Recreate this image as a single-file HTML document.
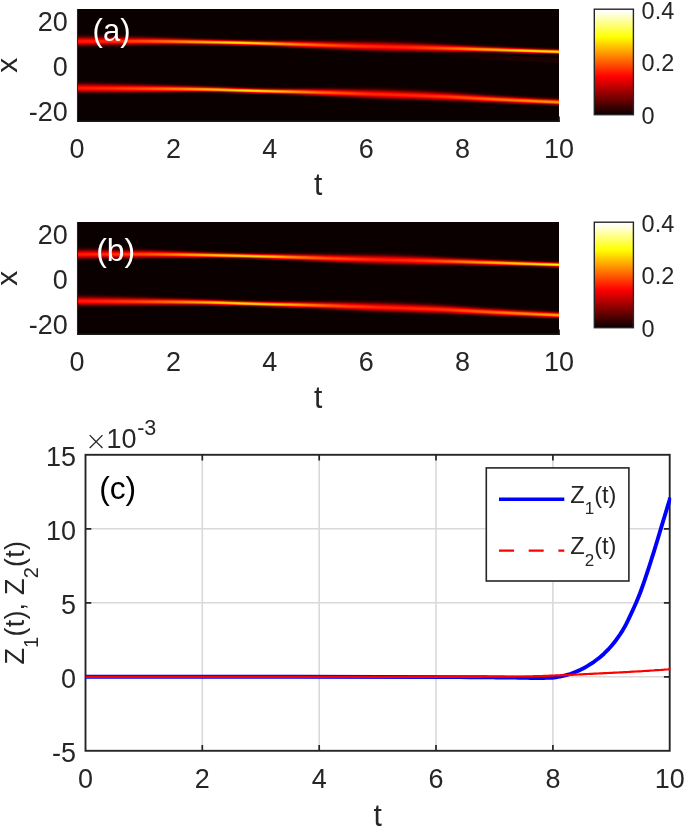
<!DOCTYPE html>
<html lang="en"><head><meta charset="utf-8"><title>Figure</title>
<style>
html,body{margin:0;padding:0;background:#fff;}
body{width:685px;height:828px;overflow:hidden;}
svg{display:block;}
text{font-family:'Liberation Sans', sans-serif;fill:#262626;}
</style></head><body>
<svg width="685" height="828" viewBox="0 0 685 828">
<defs>
<filter id="hot" filterUnits="userSpaceOnUse" x="0" y="0" width="685" height="828" color-interpolation-filters="sRGB">
<feComponentTransfer>
<feFuncR type="table" tableValues="0.0417 0.0833 0.125 0.1667 0.2083 0.25 0.2917 0.3333 0.375 0.4167 0.4583 0.5 0.5417 0.5833 0.625 0.6667 0.7083 0.75 0.7917 0.8333 0.875 0.9167 0.9583 1 1 1 1 1 1 1 1 1 1 1 1 1 1 1 1 1 1 1 1 1 1 1 1 1 1 1 1 1 1 1 1 1 1 1 1 1 1 1 1 1 1"/>
<feFuncG type="table" tableValues="0 0 0 0 0 0 0 0 0 0 0 0 0 0 0 0 0 0 0 0 0 0 0 0 0.0417 0.0833 0.125 0.1667 0.2083 0.25 0.2917 0.3333 0.375 0.4167 0.4583 0.5 0.5417 0.5833 0.625 0.6667 0.7083 0.75 0.7917 0.8333 0.875 0.9167 0.9583 1 1 1 1 1 1 1 1 1 1 1 1 1 1 1 1 1 1"/>
<feFuncB type="table" tableValues="0 0 0 0 0 0 0 0 0 0 0 0 0 0 0 0 0 0 0 0 0 0 0 0 0 0 0 0 0 0 0 0 0 0 0 0 0 0 0 0 0 0 0 0 0 0 0 0 0.0625 0.125 0.1875 0.25 0.3125 0.375 0.4375 0.5 0.5625 0.625 0.6875 0.75 0.8125 0.875 0.9375 1 1"/>
</feComponentTransfer></filter>
<linearGradient id="sech" x1="0" y1="0" x2="0" y2="1"><stop offset="0" stop-color="#fff" stop-opacity="0.0024"/><stop offset="0.025" stop-color="#fff" stop-opacity="0.0044"/><stop offset="0.05" stop-color="#fff" stop-opacity="0.0076"/><stop offset="0.075" stop-color="#fff" stop-opacity="0.0129"/><stop offset="0.1" stop-color="#fff" stop-opacity="0.0213"/><stop offset="0.125" stop-color="#fff" stop-opacity="0.0339"/><stop offset="0.15" stop-color="#fff" stop-opacity="0.0524"/><stop offset="0.175" stop-color="#fff" stop-opacity="0.0787"/><stop offset="0.2" stop-color="#fff" stop-opacity="0.1146"/><stop offset="0.225" stop-color="#fff" stop-opacity="0.1620"/><stop offset="0.25" stop-color="#fff" stop-opacity="0.2222"/><stop offset="0.275" stop-color="#fff" stop-opacity="0.2957"/><stop offset="0.3" stop-color="#fff" stop-opacity="0.3819"/><stop offset="0.325" stop-color="#fff" stop-opacity="0.4785"/><stop offset="0.35" stop-color="#fff" stop-opacity="0.5819"/><stop offset="0.375" stop-color="#fff" stop-opacity="0.6866"/><stop offset="0.4" stop-color="#fff" stop-opacity="0.7861"/><stop offset="0.425" stop-color="#fff" stop-opacity="0.8734"/><stop offset="0.45" stop-color="#fff" stop-opacity="0.9416"/><stop offset="0.475" stop-color="#fff" stop-opacity="0.9851"/><stop offset="0.5" stop-color="#fff" stop-opacity="1.0000"/><stop offset="0.525" stop-color="#fff" stop-opacity="0.9897"/><stop offset="0.55" stop-color="#fff" stop-opacity="0.9518"/><stop offset="0.575" stop-color="#fff" stop-opacity="0.8843"/><stop offset="0.6" stop-color="#fff" stop-opacity="0.7907"/><stop offset="0.625" stop-color="#fff" stop-opacity="0.6784"/><stop offset="0.65" stop-color="#fff" stop-opacity="0.5572"/><stop offset="0.675" stop-color="#fff" stop-opacity="0.4372"/><stop offset="0.7" stop-color="#fff" stop-opacity="0.3272"/><stop offset="0.725" stop-color="#fff" stop-opacity="0.2331"/><stop offset="0.75" stop-color="#fff" stop-opacity="0.1579"/><stop offset="0.775" stop-color="#fff" stop-opacity="0.1015"/><stop offset="0.8" stop-color="#fff" stop-opacity="0.0619"/><stop offset="0.825" stop-color="#fff" stop-opacity="0.0358"/><stop offset="0.85" stop-color="#fff" stop-opacity="0.0195"/><stop offset="0.875" stop-color="#fff" stop-opacity="0.0101"/><stop offset="0.9" stop-color="#fff" stop-opacity="0.0049"/><stop offset="0.925" stop-color="#fff" stop-opacity="0.0023"/><stop offset="0.95" stop-color="#fff" stop-opacity="0.0010"/><stop offset="0.975" stop-color="#fff" stop-opacity="0.0004"/><stop offset="1" stop-color="#fff" stop-opacity="0.0002"/></linearGradient>
<linearGradient id="cbg" x1="0" y1="1" x2="0" y2="0"><stop offset="0" stop-color="#000"/><stop offset="1" stop-color="#fff"/></linearGradient>
<linearGradient id="faint" gradientUnits="userSpaceOnUse" x1="430" y1="0" x2="559" y2="0"><stop offset="0" stop-color="#fff" stop-opacity="0"/><stop offset="0.5" stop-color="#fff" stop-opacity="0.022"/><stop offset="1" stop-color="#fff" stop-opacity="0.03"/></linearGradient>
<clipPath id="cpc"><rect x="85" y="454" width="586.2" height="297.3"/></clipPath>
</defs>
<rect width="685" height="828" fill="#fff"/>
<g filter="url(#hot)">
<rect x="77" y="9" width="482" height="112" fill="#000"/>
<rect x="77" y="31.14" width="2" height="20.50" fill="url(#sech)" opacity="0.401"/>
<rect x="79" y="31.16" width="2" height="20.42" fill="url(#sech)" opacity="0.402"/>
<rect x="81" y="31.19" width="2" height="20.33" fill="url(#sech)" opacity="0.403"/>
<rect x="83" y="31.22" width="2" height="20.24" fill="url(#sech)" opacity="0.405"/>
<rect x="85" y="31.25" width="2" height="20.14" fill="url(#sech)" opacity="0.406"/>
<rect x="87" y="31.29" width="2" height="20.04" fill="url(#sech)" opacity="0.408"/>
<rect x="89" y="31.33" width="2" height="19.94" fill="url(#sech)" opacity="0.410"/>
<rect x="91" y="31.37" width="2" height="19.83" fill="url(#sech)" opacity="0.411"/>
<rect x="93" y="31.42" width="2" height="19.72" fill="url(#sech)" opacity="0.413"/>
<rect x="95" y="31.46" width="2" height="19.61" fill="url(#sech)" opacity="0.415"/>
<rect x="97" y="31.51" width="2" height="19.49" fill="url(#sech)" opacity="0.417"/>
<rect x="99" y="31.56" width="2" height="19.37" fill="url(#sech)" opacity="0.419"/>
<rect x="101" y="31.62" width="2" height="19.25" fill="url(#sech)" opacity="0.421"/>
<rect x="103" y="31.67" width="2" height="19.13" fill="url(#sech)" opacity="0.423"/>
<rect x="105" y="31.73" width="2" height="19.01" fill="url(#sech)" opacity="0.426"/>
<rect x="107" y="31.78" width="2" height="18.89" fill="url(#sech)" opacity="0.428"/>
<rect x="109" y="31.84" width="2" height="18.76" fill="url(#sech)" opacity="0.430"/>
<rect x="111" y="31.90" width="2" height="18.64" fill="url(#sech)" opacity="0.432"/>
<rect x="113" y="31.96" width="2" height="18.51" fill="url(#sech)" opacity="0.435"/>
<rect x="115" y="32.02" width="2" height="18.37" fill="url(#sech)" opacity="0.437"/>
<rect x="117" y="32.09" width="2" height="18.24" fill="url(#sech)" opacity="0.440"/>
<rect x="119" y="32.16" width="2" height="18.10" fill="url(#sech)" opacity="0.443"/>
<rect x="121" y="32.23" width="2" height="17.95" fill="url(#sech)" opacity="0.445"/>
<rect x="123" y="32.30" width="2" height="17.81" fill="url(#sech)" opacity="0.448"/>
<rect x="125" y="32.37" width="2" height="17.66" fill="url(#sech)" opacity="0.451"/>
<rect x="127" y="32.45" width="2" height="17.51" fill="url(#sech)" opacity="0.455"/>
<rect x="129" y="32.52" width="2" height="17.35" fill="url(#sech)" opacity="0.458"/>
<rect x="131" y="32.60" width="2" height="17.20" fill="url(#sech)" opacity="0.461"/>
<rect x="133" y="32.68" width="2" height="17.04" fill="url(#sech)" opacity="0.464"/>
<rect x="135" y="32.76" width="2" height="16.89" fill="url(#sech)" opacity="0.468"/>
<rect x="137" y="32.84" width="2" height="16.73" fill="url(#sech)" opacity="0.471"/>
<rect x="139" y="32.92" width="2" height="16.57" fill="url(#sech)" opacity="0.475"/>
<rect x="141" y="33.00" width="2" height="16.41" fill="url(#sech)" opacity="0.479"/>
<rect x="143" y="33.09" width="2" height="16.24" fill="url(#sech)" opacity="0.483"/>
<rect x="145" y="33.18" width="2" height="16.07" fill="url(#sech)" opacity="0.487"/>
<rect x="147" y="33.28" width="2" height="15.89" fill="url(#sech)" opacity="0.491"/>
<rect x="149" y="33.38" width="2" height="15.71" fill="url(#sech)" opacity="0.496"/>
<rect x="151" y="33.48" width="2" height="15.53" fill="url(#sech)" opacity="0.500"/>
<rect x="153" y="33.59" width="2" height="15.35" fill="url(#sech)" opacity="0.505"/>
<rect x="155" y="33.70" width="2" height="15.17" fill="url(#sech)" opacity="0.510"/>
<rect x="157" y="33.81" width="2" height="14.99" fill="url(#sech)" opacity="0.515"/>
<rect x="159" y="33.93" width="2" height="14.81" fill="url(#sech)" opacity="0.520"/>
<rect x="161" y="34.04" width="2" height="14.64" fill="url(#sech)" opacity="0.525"/>
<rect x="163" y="34.16" width="2" height="14.46" fill="url(#sech)" opacity="0.530"/>
<rect x="165" y="34.27" width="2" height="14.29" fill="url(#sech)" opacity="0.535"/>
<rect x="167" y="34.39" width="2" height="14.12" fill="url(#sech)" opacity="0.540"/>
<rect x="169" y="34.50" width="2" height="13.95" fill="url(#sech)" opacity="0.545"/>
<rect x="171" y="34.62" width="2" height="13.79" fill="url(#sech)" opacity="0.550"/>
<rect x="173" y="34.73" width="2" height="13.62" fill="url(#sech)" opacity="0.556"/>
<rect x="175" y="34.85" width="2" height="13.44" fill="url(#sech)" opacity="0.561"/>
<rect x="177" y="34.98" width="2" height="13.27" fill="url(#sech)" opacity="0.567"/>
<rect x="179" y="35.10" width="2" height="13.10" fill="url(#sech)" opacity="0.573"/>
<rect x="181" y="35.22" width="2" height="12.93" fill="url(#sech)" opacity="0.579"/>
<rect x="183" y="35.34" width="2" height="12.76" fill="url(#sech)" opacity="0.585"/>
<rect x="185" y="35.46" width="2" height="12.60" fill="url(#sech)" opacity="0.591"/>
<rect x="187" y="35.57" width="2" height="12.44" fill="url(#sech)" opacity="0.597"/>
<rect x="189" y="35.68" width="2" height="12.29" fill="url(#sech)" opacity="0.603"/>
<rect x="191" y="35.79" width="2" height="12.14" fill="url(#sech)" opacity="0.609"/>
<rect x="193" y="35.90" width="2" height="12.01" fill="url(#sech)" opacity="0.615"/>
<rect x="195" y="36.00" width="2" height="11.88" fill="url(#sech)" opacity="0.620"/>
<rect x="197" y="36.09" width="2" height="11.75" fill="url(#sech)" opacity="0.625"/>
<rect x="199" y="36.18" width="2" height="11.64" fill="url(#sech)" opacity="0.630"/>
<rect x="201" y="36.27" width="2" height="11.53" fill="url(#sech)" opacity="0.635"/>
<rect x="203" y="36.35" width="2" height="11.43" fill="url(#sech)" opacity="0.639"/>
<rect x="205" y="36.44" width="2" height="11.33" fill="url(#sech)" opacity="0.644"/>
<rect x="207" y="36.53" width="2" height="11.22" fill="url(#sech)" opacity="0.649"/>
<rect x="209" y="36.62" width="2" height="11.13" fill="url(#sech)" opacity="0.653"/>
<rect x="211" y="36.70" width="2" height="11.04" fill="url(#sech)" opacity="0.657"/>
<rect x="213" y="36.78" width="2" height="10.95" fill="url(#sech)" opacity="0.662"/>
<rect x="215" y="36.87" width="2" height="10.87" fill="url(#sech)" opacity="0.666"/>
<rect x="217" y="36.95" width="2" height="10.79" fill="url(#sech)" opacity="0.669"/>
<rect x="219" y="37.02" width="2" height="10.72" fill="url(#sech)" opacity="0.673"/>
<rect x="221" y="37.10" width="2" height="10.66" fill="url(#sech)" opacity="0.676"/>
<rect x="223" y="37.17" width="2" height="10.61" fill="url(#sech)" opacity="0.679"/>
<rect x="225" y="37.23" width="2" height="10.56" fill="url(#sech)" opacity="0.681"/>
<rect x="227" y="37.30" width="2" height="10.51" fill="url(#sech)" opacity="0.684"/>
<rect x="229" y="37.37" width="2" height="10.46" fill="url(#sech)" opacity="0.686"/>
<rect x="231" y="37.43" width="2" height="10.42" fill="url(#sech)" opacity="0.688"/>
<rect x="233" y="37.50" width="2" height="10.38" fill="url(#sech)" opacity="0.691"/>
<rect x="235" y="37.56" width="2" height="10.34" fill="url(#sech)" opacity="0.693"/>
<rect x="237" y="37.63" width="2" height="10.31" fill="url(#sech)" opacity="0.694"/>
<rect x="239" y="37.69" width="2" height="10.28" fill="url(#sech)" opacity="0.696"/>
<rect x="241" y="37.74" width="2" height="10.26" fill="url(#sech)" opacity="0.697"/>
<rect x="243" y="37.79" width="2" height="10.25" fill="url(#sech)" opacity="0.697"/>
<rect x="245" y="37.84" width="2" height="10.25" fill="url(#sech)" opacity="0.697"/>
<rect x="247" y="37.88" width="2" height="10.27" fill="url(#sech)" opacity="0.696"/>
<rect x="249" y="37.91" width="2" height="10.31" fill="url(#sech)" opacity="0.694"/>
<rect x="251" y="37.93" width="2" height="10.36" fill="url(#sech)" opacity="0.692"/>
<rect x="253" y="37.95" width="2" height="10.42" fill="url(#sech)" opacity="0.689"/>
<rect x="255" y="37.97" width="2" height="10.49" fill="url(#sech)" opacity="0.685"/>
<rect x="257" y="37.97" width="2" height="10.57" fill="url(#sech)" opacity="0.681"/>
<rect x="259" y="37.98" width="2" height="10.66" fill="url(#sech)" opacity="0.676"/>
<rect x="261" y="37.99" width="2" height="10.75" fill="url(#sech)" opacity="0.672"/>
<rect x="263" y="37.99" width="2" height="10.84" fill="url(#sech)" opacity="0.667"/>
<rect x="265" y="38.00" width="2" height="10.93" fill="url(#sech)" opacity="0.663"/>
<rect x="267" y="38.00" width="2" height="11.04" fill="url(#sech)" opacity="0.658"/>
<rect x="269" y="37.99" width="2" height="11.16" fill="url(#sech)" opacity="0.652"/>
<rect x="271" y="37.97" width="2" height="11.30" fill="url(#sech)" opacity="0.645"/>
<rect x="273" y="37.94" width="2" height="11.46" fill="url(#sech)" opacity="0.638"/>
<rect x="275" y="37.91" width="2" height="11.62" fill="url(#sech)" opacity="0.631"/>
<rect x="277" y="37.88" width="2" height="11.80" fill="url(#sech)" opacity="0.623"/>
<rect x="279" y="37.84" width="2" height="11.98" fill="url(#sech)" opacity="0.616"/>
<rect x="281" y="37.80" width="2" height="12.17" fill="url(#sech)" opacity="0.608"/>
<rect x="283" y="37.76" width="2" height="12.36" fill="url(#sech)" opacity="0.600"/>
<rect x="285" y="37.71" width="2" height="12.55" fill="url(#sech)" opacity="0.593"/>
<rect x="287" y="37.68" width="2" height="12.74" fill="url(#sech)" opacity="0.586"/>
<rect x="289" y="37.65" width="2" height="12.91" fill="url(#sech)" opacity="0.580"/>
<rect x="291" y="37.62" width="2" height="13.08" fill="url(#sech)" opacity="0.574"/>
<rect x="293" y="37.59" width="2" height="13.25" fill="url(#sech)" opacity="0.568"/>
<rect x="295" y="37.56" width="2" height="13.42" fill="url(#sech)" opacity="0.562"/>
<rect x="297" y="37.53" width="2" height="13.60" fill="url(#sech)" opacity="0.556"/>
<rect x="299" y="37.49" width="2" height="13.78" fill="url(#sech)" opacity="0.550"/>
<rect x="301" y="37.46" width="2" height="13.96" fill="url(#sech)" opacity="0.545"/>
<rect x="303" y="37.43" width="2" height="14.14" fill="url(#sech)" opacity="0.539"/>
<rect x="305" y="37.40" width="2" height="14.32" fill="url(#sech)" opacity="0.534"/>
<rect x="307" y="37.37" width="2" height="14.50" fill="url(#sech)" opacity="0.528"/>
<rect x="309" y="37.35" width="2" height="14.68" fill="url(#sech)" opacity="0.523"/>
<rect x="311" y="37.32" width="2" height="14.86" fill="url(#sech)" opacity="0.518"/>
<rect x="313" y="37.29" width="2" height="15.04" fill="url(#sech)" opacity="0.513"/>
<rect x="315" y="37.27" width="2" height="15.21" fill="url(#sech)" opacity="0.509"/>
<rect x="317" y="37.25" width="2" height="15.38" fill="url(#sech)" opacity="0.504"/>
<rect x="319" y="37.23" width="2" height="15.54" fill="url(#sech)" opacity="0.500"/>
<rect x="321" y="37.21" width="2" height="15.70" fill="url(#sech)" opacity="0.496"/>
<rect x="323" y="37.20" width="2" height="15.86" fill="url(#sech)" opacity="0.492"/>
<rect x="325" y="37.18" width="2" height="16.01" fill="url(#sech)" opacity="0.488"/>
<rect x="327" y="37.17" width="2" height="16.17" fill="url(#sech)" opacity="0.484"/>
<rect x="329" y="37.15" width="2" height="16.32" fill="url(#sech)" opacity="0.481"/>
<rect x="331" y="37.14" width="2" height="16.47" fill="url(#sech)" opacity="0.477"/>
<rect x="333" y="37.13" width="2" height="16.62" fill="url(#sech)" opacity="0.474"/>
<rect x="335" y="37.11" width="2" height="16.76" fill="url(#sech)" opacity="0.471"/>
<rect x="337" y="37.10" width="2" height="16.91" fill="url(#sech)" opacity="0.467"/>
<rect x="339" y="37.09" width="2" height="17.05" fill="url(#sech)" opacity="0.464"/>
<rect x="341" y="37.08" width="2" height="17.19" fill="url(#sech)" opacity="0.461"/>
<rect x="343" y="37.07" width="2" height="17.33" fill="url(#sech)" opacity="0.458"/>
<rect x="345" y="37.06" width="2" height="17.46" fill="url(#sech)" opacity="0.455"/>
<rect x="347" y="37.05" width="2" height="17.60" fill="url(#sech)" opacity="0.453"/>
<rect x="349" y="37.04" width="2" height="17.73" fill="url(#sech)" opacity="0.450"/>
<rect x="351" y="37.02" width="2" height="17.86" fill="url(#sech)" opacity="0.447"/>
<rect x="353" y="37.01" width="2" height="18.00" fill="url(#sech)" opacity="0.445"/>
<rect x="355" y="36.99" width="2" height="18.15" fill="url(#sech)" opacity="0.442"/>
<rect x="357" y="36.96" width="2" height="18.30" fill="url(#sech)" opacity="0.439"/>
<rect x="359" y="36.94" width="2" height="18.45" fill="url(#sech)" opacity="0.436"/>
<rect x="361" y="36.91" width="2" height="18.60" fill="url(#sech)" opacity="0.433"/>
<rect x="363" y="36.89" width="2" height="18.75" fill="url(#sech)" opacity="0.430"/>
<rect x="365" y="36.87" width="2" height="18.90" fill="url(#sech)" opacity="0.427"/>
<rect x="367" y="36.84" width="2" height="19.05" fill="url(#sech)" opacity="0.425"/>
<rect x="369" y="36.82" width="2" height="19.19" fill="url(#sech)" opacity="0.422"/>
<rect x="371" y="36.81" width="2" height="19.31" fill="url(#sech)" opacity="0.420"/>
<rect x="373" y="36.80" width="2" height="19.43" fill="url(#sech)" opacity="0.418"/>
<rect x="375" y="36.80" width="2" height="19.53" fill="url(#sech)" opacity="0.416"/>
<rect x="377" y="36.80" width="2" height="19.62" fill="url(#sech)" opacity="0.415"/>
<rect x="379" y="36.82" width="2" height="19.69" fill="url(#sech)" opacity="0.414"/>
<rect x="381" y="36.84" width="2" height="19.74" fill="url(#sech)" opacity="0.413"/>
<rect x="383" y="36.88" width="2" height="19.76" fill="url(#sech)" opacity="0.413"/>
<rect x="385" y="36.92" width="2" height="19.76" fill="url(#sech)" opacity="0.413"/>
<rect x="387" y="36.98" width="2" height="19.74" fill="url(#sech)" opacity="0.413"/>
<rect x="389" y="37.05" width="2" height="19.70" fill="url(#sech)" opacity="0.414"/>
<rect x="391" y="37.13" width="2" height="19.65" fill="url(#sech)" opacity="0.414"/>
<rect x="393" y="37.21" width="2" height="19.58" fill="url(#sech)" opacity="0.416"/>
<rect x="395" y="37.30" width="2" height="19.50" fill="url(#sech)" opacity="0.417"/>
<rect x="397" y="37.39" width="2" height="19.41" fill="url(#sech)" opacity="0.418"/>
<rect x="399" y="37.49" width="2" height="19.31" fill="url(#sech)" opacity="0.420"/>
<rect x="401" y="37.59" width="2" height="19.21" fill="url(#sech)" opacity="0.422"/>
<rect x="403" y="37.70" width="2" height="19.10" fill="url(#sech)" opacity="0.424"/>
<rect x="405" y="37.80" width="2" height="18.99" fill="url(#sech)" opacity="0.426"/>
<rect x="407" y="37.91" width="2" height="18.88" fill="url(#sech)" opacity="0.428"/>
<rect x="409" y="38.02" width="2" height="18.76" fill="url(#sech)" opacity="0.430"/>
<rect x="411" y="38.13" width="2" height="18.64" fill="url(#sech)" opacity="0.432"/>
<rect x="413" y="38.25" width="2" height="18.51" fill="url(#sech)" opacity="0.435"/>
<rect x="415" y="38.38" width="2" height="18.36" fill="url(#sech)" opacity="0.438"/>
<rect x="417" y="38.51" width="2" height="18.19" fill="url(#sech)" opacity="0.441"/>
<rect x="419" y="38.65" width="2" height="18.01" fill="url(#sech)" opacity="0.444"/>
<rect x="421" y="38.79" width="2" height="17.83" fill="url(#sech)" opacity="0.448"/>
<rect x="423" y="38.94" width="2" height="17.64" fill="url(#sech)" opacity="0.452"/>
<rect x="425" y="39.09" width="2" height="17.44" fill="url(#sech)" opacity="0.456"/>
<rect x="427" y="39.24" width="2" height="17.24" fill="url(#sech)" opacity="0.460"/>
<rect x="429" y="39.40" width="2" height="17.04" fill="url(#sech)" opacity="0.465"/>
<rect x="431" y="39.55" width="2" height="16.83" fill="url(#sech)" opacity="0.469"/>
<rect x="433" y="39.70" width="2" height="16.63" fill="url(#sech)" opacity="0.474"/>
<rect x="435" y="39.86" width="2" height="16.43" fill="url(#sech)" opacity="0.478"/>
<rect x="437" y="40.01" width="2" height="16.23" fill="url(#sech)" opacity="0.483"/>
<rect x="439" y="40.16" width="2" height="16.04" fill="url(#sech)" opacity="0.487"/>
<rect x="441" y="40.31" width="2" height="15.84" fill="url(#sech)" opacity="0.492"/>
<rect x="443" y="40.46" width="2" height="15.64" fill="url(#sech)" opacity="0.497"/>
<rect x="445" y="40.62" width="2" height="15.43" fill="url(#sech)" opacity="0.503"/>
<rect x="447" y="40.78" width="2" height="15.21" fill="url(#sech)" opacity="0.509"/>
<rect x="449" y="40.94" width="2" height="15.00" fill="url(#sech)" opacity="0.514"/>
<rect x="451" y="41.11" width="2" height="14.78" fill="url(#sech)" opacity="0.521"/>
<rect x="453" y="41.27" width="2" height="14.56" fill="url(#sech)" opacity="0.527"/>
<rect x="455" y="41.43" width="2" height="14.35" fill="url(#sech)" opacity="0.533"/>
<rect x="457" y="41.59" width="2" height="14.14" fill="url(#sech)" opacity="0.539"/>
<rect x="459" y="41.75" width="2" height="13.94" fill="url(#sech)" opacity="0.545"/>
<rect x="461" y="41.90" width="2" height="13.74" fill="url(#sech)" opacity="0.552"/>
<rect x="463" y="42.05" width="2" height="13.55" fill="url(#sech)" opacity="0.558"/>
<rect x="465" y="42.20" width="2" height="13.38" fill="url(#sech)" opacity="0.564"/>
<rect x="467" y="42.34" width="2" height="13.21" fill="url(#sech)" opacity="0.569"/>
<rect x="469" y="42.48" width="2" height="13.05" fill="url(#sech)" opacity="0.575"/>
<rect x="471" y="42.61" width="2" height="12.90" fill="url(#sech)" opacity="0.580"/>
<rect x="473" y="42.74" width="2" height="12.75" fill="url(#sech)" opacity="0.586"/>
<rect x="475" y="42.88" width="2" height="12.60" fill="url(#sech)" opacity="0.591"/>
<rect x="477" y="43.01" width="2" height="12.46" fill="url(#sech)" opacity="0.597"/>
<rect x="479" y="43.14" width="2" height="12.32" fill="url(#sech)" opacity="0.602"/>
<rect x="481" y="43.27" width="2" height="12.19" fill="url(#sech)" opacity="0.607"/>
<rect x="483" y="43.39" width="2" height="12.06" fill="url(#sech)" opacity="0.613"/>
<rect x="485" y="43.52" width="2" height="11.93" fill="url(#sech)" opacity="0.618"/>
<rect x="487" y="43.64" width="2" height="11.81" fill="url(#sech)" opacity="0.623"/>
<rect x="489" y="43.76" width="2" height="11.70" fill="url(#sech)" opacity="0.628"/>
<rect x="491" y="43.88" width="2" height="11.58" fill="url(#sech)" opacity="0.632"/>
<rect x="493" y="44.00" width="2" height="11.48" fill="url(#sech)" opacity="0.637"/>
<rect x="495" y="44.11" width="2" height="11.38" fill="url(#sech)" opacity="0.642"/>
<rect x="497" y="44.23" width="2" height="11.28" fill="url(#sech)" opacity="0.646"/>
<rect x="499" y="44.33" width="2" height="11.20" fill="url(#sech)" opacity="0.650"/>
<rect x="501" y="44.44" width="2" height="11.11" fill="url(#sech)" opacity="0.654"/>
<rect x="503" y="44.55" width="2" height="11.03" fill="url(#sech)" opacity="0.658"/>
<rect x="505" y="44.65" width="2" height="10.95" fill="url(#sech)" opacity="0.662"/>
<rect x="507" y="44.76" width="2" height="10.87" fill="url(#sech)" opacity="0.666"/>
<rect x="509" y="44.86" width="2" height="10.79" fill="url(#sech)" opacity="0.669"/>
<rect x="511" y="44.96" width="2" height="10.72" fill="url(#sech)" opacity="0.673"/>
<rect x="513" y="45.06" width="2" height="10.65" fill="url(#sech)" opacity="0.677"/>
<rect x="515" y="45.16" width="2" height="10.58" fill="url(#sech)" opacity="0.680"/>
<rect x="517" y="45.26" width="2" height="10.52" fill="url(#sech)" opacity="0.683"/>
<rect x="519" y="45.35" width="2" height="10.46" fill="url(#sech)" opacity="0.686"/>
<rect x="521" y="45.45" width="2" height="10.40" fill="url(#sech)" opacity="0.689"/>
<rect x="523" y="45.54" width="2" height="10.35" fill="url(#sech)" opacity="0.692"/>
<rect x="525" y="45.63" width="2" height="10.30" fill="url(#sech)" opacity="0.695"/>
<rect x="527" y="45.71" width="2" height="10.25" fill="url(#sech)" opacity="0.698"/>
<rect x="529" y="45.80" width="2" height="10.20" fill="url(#sech)" opacity="0.700"/>
<rect x="531" y="45.88" width="2" height="10.16" fill="url(#sech)" opacity="0.702"/>
<rect x="533" y="45.96" width="2" height="10.12" fill="url(#sech)" opacity="0.704"/>
<rect x="535" y="46.04" width="2" height="10.09" fill="url(#sech)" opacity="0.707"/>
<rect x="537" y="46.13" width="2" height="10.05" fill="url(#sech)" opacity="0.709"/>
<rect x="539" y="46.21" width="2" height="10.01" fill="url(#sech)" opacity="0.711"/>
<rect x="541" y="46.28" width="2" height="9.98" fill="url(#sech)" opacity="0.713"/>
<rect x="543" y="46.36" width="2" height="9.95" fill="url(#sech)" opacity="0.714"/>
<rect x="545" y="46.44" width="2" height="9.92" fill="url(#sech)" opacity="0.716"/>
<rect x="547" y="46.52" width="2" height="9.89" fill="url(#sech)" opacity="0.718"/>
<rect x="549" y="46.59" width="2" height="9.86" fill="url(#sech)" opacity="0.719"/>
<rect x="551" y="46.67" width="2" height="9.84" fill="url(#sech)" opacity="0.721"/>
<rect x="553" y="46.74" width="2" height="9.81" fill="url(#sech)" opacity="0.722"/>
<rect x="555" y="46.81" width="2" height="9.79" fill="url(#sech)" opacity="0.723"/>
<rect x="557" y="46.88" width="2" height="9.77" fill="url(#sech)" opacity="0.725"/>
<rect x="77" y="77.86" width="2" height="20.50" fill="url(#sech)" opacity="0.401"/>
<rect x="79" y="77.91" width="2" height="20.42" fill="url(#sech)" opacity="0.402"/>
<rect x="81" y="77.97" width="2" height="20.33" fill="url(#sech)" opacity="0.403"/>
<rect x="83" y="78.03" width="2" height="20.24" fill="url(#sech)" opacity="0.405"/>
<rect x="85" y="78.10" width="2" height="20.14" fill="url(#sech)" opacity="0.406"/>
<rect x="87" y="78.16" width="2" height="20.04" fill="url(#sech)" opacity="0.408"/>
<rect x="89" y="78.23" width="2" height="19.94" fill="url(#sech)" opacity="0.410"/>
<rect x="91" y="78.30" width="2" height="19.83" fill="url(#sech)" opacity="0.411"/>
<rect x="93" y="78.37" width="2" height="19.72" fill="url(#sech)" opacity="0.413"/>
<rect x="95" y="78.44" width="2" height="19.61" fill="url(#sech)" opacity="0.415"/>
<rect x="97" y="78.52" width="2" height="19.49" fill="url(#sech)" opacity="0.417"/>
<rect x="99" y="78.59" width="2" height="19.37" fill="url(#sech)" opacity="0.419"/>
<rect x="101" y="78.67" width="2" height="19.25" fill="url(#sech)" opacity="0.421"/>
<rect x="103" y="78.75" width="2" height="19.13" fill="url(#sech)" opacity="0.423"/>
<rect x="105" y="78.82" width="2" height="19.01" fill="url(#sech)" opacity="0.426"/>
<rect x="107" y="78.90" width="2" height="18.89" fill="url(#sech)" opacity="0.428"/>
<rect x="109" y="78.98" width="2" height="18.76" fill="url(#sech)" opacity="0.430"/>
<rect x="111" y="79.06" width="2" height="18.64" fill="url(#sech)" opacity="0.432"/>
<rect x="113" y="79.14" width="2" height="18.51" fill="url(#sech)" opacity="0.435"/>
<rect x="115" y="79.23" width="2" height="18.37" fill="url(#sech)" opacity="0.437"/>
<rect x="117" y="79.32" width="2" height="18.23" fill="url(#sech)" opacity="0.440"/>
<rect x="119" y="79.40" width="2" height="18.09" fill="url(#sech)" opacity="0.443"/>
<rect x="121" y="79.49" width="2" height="17.94" fill="url(#sech)" opacity="0.446"/>
<rect x="123" y="79.59" width="2" height="17.80" fill="url(#sech)" opacity="0.449"/>
<rect x="125" y="79.68" width="2" height="17.65" fill="url(#sech)" opacity="0.452"/>
<rect x="127" y="79.77" width="2" height="17.50" fill="url(#sech)" opacity="0.455"/>
<rect x="129" y="79.87" width="2" height="17.34" fill="url(#sech)" opacity="0.458"/>
<rect x="131" y="79.96" width="2" height="17.19" fill="url(#sech)" opacity="0.461"/>
<rect x="133" y="80.06" width="2" height="17.03" fill="url(#sech)" opacity="0.465"/>
<rect x="135" y="80.15" width="2" height="16.88" fill="url(#sech)" opacity="0.468"/>
<rect x="137" y="80.25" width="2" height="16.72" fill="url(#sech)" opacity="0.471"/>
<rect x="139" y="80.34" width="2" height="16.57" fill="url(#sech)" opacity="0.475"/>
<rect x="141" y="80.44" width="2" height="16.41" fill="url(#sech)" opacity="0.479"/>
<rect x="143" y="80.53" width="2" height="16.25" fill="url(#sech)" opacity="0.482"/>
<rect x="145" y="80.63" width="2" height="16.09" fill="url(#sech)" opacity="0.486"/>
<rect x="147" y="80.73" width="2" height="15.93" fill="url(#sech)" opacity="0.490"/>
<rect x="149" y="80.83" width="2" height="15.76" fill="url(#sech)" opacity="0.494"/>
<rect x="151" y="80.93" width="2" height="15.59" fill="url(#sech)" opacity="0.499"/>
<rect x="153" y="81.03" width="2" height="15.43" fill="url(#sech)" opacity="0.503"/>
<rect x="155" y="81.13" width="2" height="15.26" fill="url(#sech)" opacity="0.507"/>
<rect x="157" y="81.23" width="2" height="15.09" fill="url(#sech)" opacity="0.512"/>
<rect x="159" y="81.33" width="2" height="14.92" fill="url(#sech)" opacity="0.516"/>
<rect x="161" y="81.43" width="2" height="14.76" fill="url(#sech)" opacity="0.521"/>
<rect x="163" y="81.53" width="2" height="14.59" fill="url(#sech)" opacity="0.526"/>
<rect x="165" y="81.63" width="2" height="14.43" fill="url(#sech)" opacity="0.530"/>
<rect x="167" y="81.73" width="2" height="14.27" fill="url(#sech)" opacity="0.535"/>
<rect x="169" y="81.83" width="2" height="14.12" fill="url(#sech)" opacity="0.540"/>
<rect x="171" y="81.93" width="2" height="13.96" fill="url(#sech)" opacity="0.545"/>
<rect x="173" y="82.03" width="2" height="13.80" fill="url(#sech)" opacity="0.550"/>
<rect x="175" y="82.13" width="2" height="13.63" fill="url(#sech)" opacity="0.555"/>
<rect x="177" y="82.23" width="2" height="13.47" fill="url(#sech)" opacity="0.561"/>
<rect x="179" y="82.33" width="2" height="13.31" fill="url(#sech)" opacity="0.566"/>
<rect x="181" y="82.43" width="2" height="13.15" fill="url(#sech)" opacity="0.572"/>
<rect x="183" y="82.54" width="2" height="12.99" fill="url(#sech)" opacity="0.577"/>
<rect x="185" y="82.64" width="2" height="12.83" fill="url(#sech)" opacity="0.583"/>
<rect x="187" y="82.74" width="2" height="12.68" fill="url(#sech)" opacity="0.588"/>
<rect x="189" y="82.84" width="2" height="12.53" fill="url(#sech)" opacity="0.594"/>
<rect x="191" y="82.93" width="2" height="12.39" fill="url(#sech)" opacity="0.599"/>
<rect x="193" y="83.03" width="2" height="12.25" fill="url(#sech)" opacity="0.605"/>
<rect x="195" y="83.13" width="2" height="12.12" fill="url(#sech)" opacity="0.610"/>
<rect x="197" y="83.22" width="2" height="12.00" fill="url(#sech)" opacity="0.615"/>
<rect x="199" y="83.31" width="2" height="11.88" fill="url(#sech)" opacity="0.620"/>
<rect x="201" y="83.41" width="2" height="11.76" fill="url(#sech)" opacity="0.625"/>
<rect x="203" y="83.50" width="2" height="11.65" fill="url(#sech)" opacity="0.630"/>
<rect x="205" y="83.60" width="2" height="11.53" fill="url(#sech)" opacity="0.635"/>
<rect x="207" y="83.71" width="2" height="11.42" fill="url(#sech)" opacity="0.640"/>
<rect x="209" y="83.81" width="2" height="11.31" fill="url(#sech)" opacity="0.645"/>
<rect x="211" y="83.92" width="2" height="11.21" fill="url(#sech)" opacity="0.650"/>
<rect x="213" y="84.02" width="2" height="11.11" fill="url(#sech)" opacity="0.654"/>
<rect x="215" y="84.12" width="2" height="11.01" fill="url(#sech)" opacity="0.659"/>
<rect x="217" y="84.23" width="2" height="10.92" fill="url(#sech)" opacity="0.663"/>
<rect x="219" y="84.33" width="2" height="10.84" fill="url(#sech)" opacity="0.667"/>
<rect x="221" y="84.42" width="2" height="10.77" fill="url(#sech)" opacity="0.670"/>
<rect x="223" y="84.52" width="2" height="10.71" fill="url(#sech)" opacity="0.674"/>
<rect x="225" y="84.61" width="2" height="10.65" fill="url(#sech)" opacity="0.676"/>
<rect x="227" y="84.70" width="2" height="10.60" fill="url(#sech)" opacity="0.679"/>
<rect x="229" y="84.80" width="2" height="10.54" fill="url(#sech)" opacity="0.682"/>
<rect x="231" y="84.89" width="2" height="10.49" fill="url(#sech)" opacity="0.685"/>
<rect x="233" y="84.98" width="2" height="10.44" fill="url(#sech)" opacity="0.687"/>
<rect x="235" y="85.07" width="2" height="10.39" fill="url(#sech)" opacity="0.690"/>
<rect x="237" y="85.16" width="2" height="10.35" fill="url(#sech)" opacity="0.692"/>
<rect x="239" y="85.24" width="2" height="10.31" fill="url(#sech)" opacity="0.695"/>
<rect x="241" y="85.32" width="2" height="10.27" fill="url(#sech)" opacity="0.696"/>
<rect x="243" y="85.40" width="2" height="10.24" fill="url(#sech)" opacity="0.698"/>
<rect x="245" y="85.47" width="2" height="10.22" fill="url(#sech)" opacity="0.699"/>
<rect x="247" y="85.54" width="2" height="10.21" fill="url(#sech)" opacity="0.700"/>
<rect x="249" y="85.60" width="2" height="10.20" fill="url(#sech)" opacity="0.700"/>
<rect x="251" y="85.66" width="2" height="10.21" fill="url(#sech)" opacity="0.700"/>
<rect x="253" y="85.71" width="2" height="10.23" fill="url(#sech)" opacity="0.699"/>
<rect x="255" y="85.74" width="2" height="10.26" fill="url(#sech)" opacity="0.697"/>
<rect x="257" y="85.78" width="2" height="10.30" fill="url(#sech)" opacity="0.695"/>
<rect x="259" y="85.80" width="2" height="10.35" fill="url(#sech)" opacity="0.692"/>
<rect x="261" y="85.82" width="2" height="10.40" fill="url(#sech)" opacity="0.689"/>
<rect x="263" y="85.84" width="2" height="10.47" fill="url(#sech)" opacity="0.686"/>
<rect x="265" y="85.85" width="2" height="10.53" fill="url(#sech)" opacity="0.682"/>
<rect x="267" y="85.86" width="2" height="10.61" fill="url(#sech)" opacity="0.679"/>
<rect x="269" y="85.87" width="2" height="10.68" fill="url(#sech)" opacity="0.675"/>
<rect x="271" y="85.88" width="2" height="10.76" fill="url(#sech)" opacity="0.671"/>
<rect x="273" y="85.88" width="2" height="10.84" fill="url(#sech)" opacity="0.667"/>
<rect x="275" y="85.89" width="2" height="10.92" fill="url(#sech)" opacity="0.663"/>
<rect x="277" y="85.88" width="2" height="11.02" fill="url(#sech)" opacity="0.658"/>
<rect x="279" y="85.87" width="2" height="11.13" fill="url(#sech)" opacity="0.653"/>
<rect x="281" y="85.86" width="2" height="11.25" fill="url(#sech)" opacity="0.647"/>
<rect x="283" y="85.83" width="2" height="11.39" fill="url(#sech)" opacity="0.641"/>
<rect x="285" y="85.80" width="2" height="11.53" fill="url(#sech)" opacity="0.635"/>
<rect x="287" y="85.77" width="2" height="11.69" fill="url(#sech)" opacity="0.628"/>
<rect x="289" y="85.73" width="2" height="11.85" fill="url(#sech)" opacity="0.621"/>
<rect x="291" y="85.69" width="2" height="12.02" fill="url(#sech)" opacity="0.614"/>
<rect x="293" y="85.65" width="2" height="12.19" fill="url(#sech)" opacity="0.607"/>
<rect x="295" y="85.61" width="2" height="12.36" fill="url(#sech)" opacity="0.600"/>
<rect x="297" y="85.57" width="2" height="12.54" fill="url(#sech)" opacity="0.594"/>
<rect x="299" y="85.53" width="2" height="12.70" fill="url(#sech)" opacity="0.587"/>
<rect x="301" y="85.49" width="2" height="12.87" fill="url(#sech)" opacity="0.581"/>
<rect x="303" y="85.45" width="2" height="13.05" fill="url(#sech)" opacity="0.575"/>
<rect x="305" y="85.41" width="2" height="13.23" fill="url(#sech)" opacity="0.569"/>
<rect x="307" y="85.36" width="2" height="13.42" fill="url(#sech)" opacity="0.562"/>
<rect x="309" y="85.32" width="2" height="13.61" fill="url(#sech)" opacity="0.556"/>
<rect x="311" y="85.27" width="2" height="13.80" fill="url(#sech)" opacity="0.550"/>
<rect x="313" y="85.22" width="2" height="14.00" fill="url(#sech)" opacity="0.544"/>
<rect x="315" y="85.17" width="2" height="14.20" fill="url(#sech)" opacity="0.537"/>
<rect x="317" y="85.13" width="2" height="14.40" fill="url(#sech)" opacity="0.532"/>
<rect x="319" y="85.08" width="2" height="14.59" fill="url(#sech)" opacity="0.526"/>
<rect x="321" y="85.04" width="2" height="14.79" fill="url(#sech)" opacity="0.520"/>
<rect x="323" y="85.01" width="2" height="14.98" fill="url(#sech)" opacity="0.515"/>
<rect x="325" y="84.97" width="2" height="15.16" fill="url(#sech)" opacity="0.510"/>
<rect x="327" y="84.94" width="2" height="15.34" fill="url(#sech)" opacity="0.505"/>
<rect x="329" y="84.91" width="2" height="15.52" fill="url(#sech)" opacity="0.500"/>
<rect x="331" y="84.88" width="2" height="15.71" fill="url(#sech)" opacity="0.496"/>
<rect x="333" y="84.85" width="2" height="15.89" fill="url(#sech)" opacity="0.491"/>
<rect x="335" y="84.82" width="2" height="16.07" fill="url(#sech)" opacity="0.487"/>
<rect x="337" y="84.79" width="2" height="16.25" fill="url(#sech)" opacity="0.483"/>
<rect x="339" y="84.77" width="2" height="16.42" fill="url(#sech)" opacity="0.478"/>
<rect x="341" y="84.74" width="2" height="16.60" fill="url(#sech)" opacity="0.474"/>
<rect x="343" y="84.72" width="2" height="16.77" fill="url(#sech)" opacity="0.471"/>
<rect x="345" y="84.70" width="2" height="16.93" fill="url(#sech)" opacity="0.467"/>
<rect x="347" y="84.69" width="2" height="17.09" fill="url(#sech)" opacity="0.463"/>
<rect x="349" y="84.68" width="2" height="17.25" fill="url(#sech)" opacity="0.460"/>
<rect x="351" y="84.66" width="2" height="17.40" fill="url(#sech)" opacity="0.457"/>
<rect x="353" y="84.65" width="2" height="17.57" fill="url(#sech)" opacity="0.453"/>
<rect x="355" y="84.63" width="2" height="17.74" fill="url(#sech)" opacity="0.450"/>
<rect x="357" y="84.61" width="2" height="17.91" fill="url(#sech)" opacity="0.446"/>
<rect x="359" y="84.59" width="2" height="18.09" fill="url(#sech)" opacity="0.443"/>
<rect x="361" y="84.57" width="2" height="18.27" fill="url(#sech)" opacity="0.439"/>
<rect x="363" y="84.54" width="2" height="18.44" fill="url(#sech)" opacity="0.436"/>
<rect x="365" y="84.52" width="2" height="18.61" fill="url(#sech)" opacity="0.433"/>
<rect x="367" y="84.51" width="2" height="18.78" fill="url(#sech)" opacity="0.430"/>
<rect x="369" y="84.50" width="2" height="18.94" fill="url(#sech)" opacity="0.427"/>
<rect x="371" y="84.49" width="2" height="19.09" fill="url(#sech)" opacity="0.424"/>
<rect x="373" y="84.49" width="2" height="19.23" fill="url(#sech)" opacity="0.422"/>
<rect x="375" y="84.49" width="2" height="19.35" fill="url(#sech)" opacity="0.420"/>
<rect x="377" y="84.51" width="2" height="19.45" fill="url(#sech)" opacity="0.418"/>
<rect x="379" y="84.54" width="2" height="19.53" fill="url(#sech)" opacity="0.417"/>
<rect x="381" y="84.57" width="2" height="19.58" fill="url(#sech)" opacity="0.416"/>
<rect x="383" y="84.62" width="2" height="19.61" fill="url(#sech)" opacity="0.415"/>
<rect x="385" y="84.69" width="2" height="19.62" fill="url(#sech)" opacity="0.415"/>
<rect x="387" y="84.76" width="2" height="19.61" fill="url(#sech)" opacity="0.415"/>
<rect x="389" y="84.83" width="2" height="19.60" fill="url(#sech)" opacity="0.415"/>
<rect x="391" y="84.90" width="2" height="19.58" fill="url(#sech)" opacity="0.416"/>
<rect x="393" y="84.97" width="2" height="19.56" fill="url(#sech)" opacity="0.416"/>
<rect x="395" y="85.05" width="2" height="19.54" fill="url(#sech)" opacity="0.416"/>
<rect x="397" y="85.13" width="2" height="19.51" fill="url(#sech)" opacity="0.417"/>
<rect x="399" y="85.21" width="2" height="19.48" fill="url(#sech)" opacity="0.417"/>
<rect x="401" y="85.30" width="2" height="19.44" fill="url(#sech)" opacity="0.418"/>
<rect x="403" y="85.39" width="2" height="19.40" fill="url(#sech)" opacity="0.419"/>
<rect x="405" y="85.48" width="2" height="19.35" fill="url(#sech)" opacity="0.419"/>
<rect x="407" y="85.57" width="2" height="19.31" fill="url(#sech)" opacity="0.420"/>
<rect x="409" y="85.66" width="2" height="19.25" fill="url(#sech)" opacity="0.421"/>
<rect x="411" y="85.76" width="2" height="19.20" fill="url(#sech)" opacity="0.422"/>
<rect x="413" y="85.85" width="2" height="19.14" fill="url(#sech)" opacity="0.423"/>
<rect x="415" y="85.95" width="2" height="19.09" fill="url(#sech)" opacity="0.424"/>
<rect x="417" y="86.06" width="2" height="19.02" fill="url(#sech)" opacity="0.425"/>
<rect x="419" y="86.16" width="2" height="18.96" fill="url(#sech)" opacity="0.426"/>
<rect x="421" y="86.27" width="2" height="18.89" fill="url(#sech)" opacity="0.428"/>
<rect x="423" y="86.37" width="2" height="18.83" fill="url(#sech)" opacity="0.429"/>
<rect x="425" y="86.48" width="2" height="18.76" fill="url(#sech)" opacity="0.430"/>
<rect x="427" y="86.59" width="2" height="18.69" fill="url(#sech)" opacity="0.431"/>
<rect x="429" y="86.71" width="2" height="18.62" fill="url(#sech)" opacity="0.433"/>
<rect x="431" y="86.82" width="2" height="18.55" fill="url(#sech)" opacity="0.434"/>
<rect x="433" y="86.94" width="2" height="18.47" fill="url(#sech)" opacity="0.435"/>
<rect x="435" y="87.06" width="2" height="18.40" fill="url(#sech)" opacity="0.437"/>
<rect x="437" y="87.18" width="2" height="18.32" fill="url(#sech)" opacity="0.438"/>
<rect x="439" y="87.31" width="2" height="18.23" fill="url(#sech)" opacity="0.440"/>
<rect x="441" y="87.46" width="2" height="18.12" fill="url(#sech)" opacity="0.442"/>
<rect x="443" y="87.61" width="2" height="18.00" fill="url(#sech)" opacity="0.445"/>
<rect x="445" y="87.77" width="2" height="17.87" fill="url(#sech)" opacity="0.447"/>
<rect x="447" y="87.94" width="2" height="17.72" fill="url(#sech)" opacity="0.450"/>
<rect x="449" y="88.11" width="2" height="17.57" fill="url(#sech)" opacity="0.453"/>
<rect x="451" y="88.29" width="2" height="17.41" fill="url(#sech)" opacity="0.456"/>
<rect x="453" y="88.48" width="2" height="17.25" fill="url(#sech)" opacity="0.460"/>
<rect x="455" y="88.66" width="2" height="17.09" fill="url(#sech)" opacity="0.463"/>
<rect x="457" y="88.85" width="2" height="16.93" fill="url(#sech)" opacity="0.467"/>
<rect x="459" y="89.04" width="2" height="16.77" fill="url(#sech)" opacity="0.470"/>
<rect x="461" y="89.22" width="2" height="16.61" fill="url(#sech)" opacity="0.474"/>
<rect x="463" y="89.41" width="2" height="16.46" fill="url(#sech)" opacity="0.478"/>
<rect x="465" y="89.59" width="2" height="16.31" fill="url(#sech)" opacity="0.481"/>
<rect x="467" y="89.77" width="2" height="16.17" fill="url(#sech)" opacity="0.484"/>
<rect x="469" y="89.95" width="2" height="16.04" fill="url(#sech)" opacity="0.487"/>
<rect x="471" y="90.12" width="2" height="15.91" fill="url(#sech)" opacity="0.491"/>
<rect x="473" y="90.29" width="2" height="15.79" fill="url(#sech)" opacity="0.494"/>
<rect x="475" y="90.47" width="2" height="15.66" fill="url(#sech)" opacity="0.497"/>
<rect x="477" y="90.64" width="2" height="15.53" fill="url(#sech)" opacity="0.500"/>
<rect x="479" y="90.81" width="2" height="15.41" fill="url(#sech)" opacity="0.503"/>
<rect x="481" y="90.98" width="2" height="15.29" fill="url(#sech)" opacity="0.507"/>
<rect x="483" y="91.15" width="2" height="15.17" fill="url(#sech)" opacity="0.510"/>
<rect x="485" y="91.32" width="2" height="15.05" fill="url(#sech)" opacity="0.513"/>
<rect x="487" y="91.48" width="2" height="14.93" fill="url(#sech)" opacity="0.516"/>
<rect x="489" y="91.64" width="2" height="14.82" fill="url(#sech)" opacity="0.519"/>
<rect x="491" y="91.80" width="2" height="14.71" fill="url(#sech)" opacity="0.522"/>
<rect x="493" y="91.95" width="2" height="14.60" fill="url(#sech)" opacity="0.526"/>
<rect x="495" y="92.10" width="2" height="14.50" fill="url(#sech)" opacity="0.529"/>
<rect x="497" y="92.25" width="2" height="14.40" fill="url(#sech)" opacity="0.531"/>
<rect x="499" y="92.39" width="2" height="14.30" fill="url(#sech)" opacity="0.534"/>
<rect x="501" y="92.54" width="2" height="14.20" fill="url(#sech)" opacity="0.537"/>
<rect x="503" y="92.68" width="2" height="14.11" fill="url(#sech)" opacity="0.540"/>
<rect x="505" y="92.82" width="2" height="14.01" fill="url(#sech)" opacity="0.543"/>
<rect x="507" y="92.96" width="2" height="13.92" fill="url(#sech)" opacity="0.546"/>
<rect x="509" y="93.10" width="2" height="13.83" fill="url(#sech)" opacity="0.549"/>
<rect x="511" y="93.24" width="2" height="13.74" fill="url(#sech)" opacity="0.552"/>
<rect x="513" y="93.38" width="2" height="13.66" fill="url(#sech)" opacity="0.554"/>
<rect x="515" y="93.51" width="2" height="13.57" fill="url(#sech)" opacity="0.557"/>
<rect x="517" y="93.65" width="2" height="13.49" fill="url(#sech)" opacity="0.560"/>
<rect x="519" y="93.78" width="2" height="13.41" fill="url(#sech)" opacity="0.563"/>
<rect x="521" y="93.91" width="2" height="13.34" fill="url(#sech)" opacity="0.565"/>
<rect x="523" y="94.04" width="2" height="13.26" fill="url(#sech)" opacity="0.568"/>
<rect x="525" y="94.16" width="2" height="13.19" fill="url(#sech)" opacity="0.570"/>
<rect x="527" y="94.29" width="2" height="13.12" fill="url(#sech)" opacity="0.573"/>
<rect x="529" y="94.41" width="2" height="13.05" fill="url(#sech)" opacity="0.575"/>
<rect x="531" y="94.54" width="2" height="12.98" fill="url(#sech)" opacity="0.577"/>
<rect x="533" y="94.66" width="2" height="12.92" fill="url(#sech)" opacity="0.580"/>
<rect x="535" y="94.78" width="2" height="12.86" fill="url(#sech)" opacity="0.582"/>
<rect x="537" y="94.90" width="2" height="12.80" fill="url(#sech)" opacity="0.584"/>
<rect x="539" y="95.02" width="2" height="12.74" fill="url(#sech)" opacity="0.586"/>
<rect x="541" y="95.13" width="2" height="12.68" fill="url(#sech)" opacity="0.588"/>
<rect x="543" y="95.25" width="2" height="12.62" fill="url(#sech)" opacity="0.591"/>
<rect x="545" y="95.36" width="2" height="12.57" fill="url(#sech)" opacity="0.593"/>
<rect x="547" y="95.48" width="2" height="12.51" fill="url(#sech)" opacity="0.595"/>
<rect x="549" y="95.59" width="2" height="12.46" fill="url(#sech)" opacity="0.597"/>
<rect x="551" y="95.70" width="2" height="12.41" fill="url(#sech)" opacity="0.599"/>
<rect x="553" y="95.81" width="2" height="12.36" fill="url(#sech)" opacity="0.600"/>
<rect x="555" y="95.92" width="2" height="12.31" fill="url(#sech)" opacity="0.602"/>
<rect x="557" y="96.02" width="2" height="12.27" fill="url(#sech)" opacity="0.604"/>
<path d="M430 54 L559 60.5" stroke="url(#faint)" stroke-width="5" fill="none"/>
</g>
<path d="M77.5 9.0 V121.0" fill="none" stroke="#262626" stroke-width="1.1"/>
<path d="M77.0 121.15 H559.8" fill="none" stroke="#1a1a1a" stroke-width="1.5"/>
<path d="M559.2 116.4 v5.4" fill="none" stroke="#1a1a1a" stroke-width="1.3"/>
<text transform="translate(67.8,31.1) scale(1,1.04)" font-size="27" text-anchor="end">20</text>
<text transform="translate(67.8,75.9) scale(1,1.04)" font-size="27" text-anchor="end">0</text>
<text transform="translate(67.8,120.7) scale(1,1.04)" font-size="27" text-anchor="end">-20</text>
<text transform="translate(77.0,158.4) scale(1,1.04)" font-size="27" text-anchor="middle">0</text>
<text transform="translate(173.4,158.4) scale(1,1.04)" font-size="27" text-anchor="middle">2</text>
<text transform="translate(269.8,158.4) scale(1,1.04)" font-size="27" text-anchor="middle">4</text>
<text transform="translate(366.2,158.4) scale(1,1.04)" font-size="27" text-anchor="middle">6</text>
<text transform="translate(462.6,158.4) scale(1,1.04)" font-size="27" text-anchor="middle">8</text>
<text transform="translate(559.0,158.4) scale(1,1.04)" font-size="27" text-anchor="middle">10</text>
<text transform="translate(318.2,195.0) scale(1,1.03)" font-size="30" text-anchor="middle">t</text>
<text transform="translate(17.3,65.2) rotate(-90)" font-size="30" text-anchor="middle">x</text>
<text x="92.6" y="41.3" font-size="30.5" style="fill:#fff" textLength="37.9" lengthAdjust="spacingAndGlyphs">(a)</text>
<g filter="url(#hot)"><rect x="594.3" y="9.2" width="39.1" height="105.5" fill="url(#cbg)"/></g>
<rect x="594.3" y="9.2" width="39.1" height="105.5" fill="none" stroke="#262626" stroke-width="1.4"/>
<text transform="translate(641.6,18.9) scale(1,1.05)" font-size="23.5">0.4</text>
<text transform="translate(641.6,70.9) scale(1,1.05)" font-size="23.5">0.2</text>
<text transform="translate(641.6,124.4) scale(1,1.05)" font-size="23.5">0</text>
<g filter="url(#hot)">
<rect x="77" y="222" width="482" height="112" fill="#000"/>
<rect x="77" y="244.14" width="2" height="20.50" fill="url(#sech)" opacity="0.401"/>
<rect x="79" y="244.16" width="2" height="20.42" fill="url(#sech)" opacity="0.402"/>
<rect x="81" y="244.19" width="2" height="20.33" fill="url(#sech)" opacity="0.403"/>
<rect x="83" y="244.22" width="2" height="20.24" fill="url(#sech)" opacity="0.405"/>
<rect x="85" y="244.25" width="2" height="20.14" fill="url(#sech)" opacity="0.406"/>
<rect x="87" y="244.29" width="2" height="20.04" fill="url(#sech)" opacity="0.408"/>
<rect x="89" y="244.33" width="2" height="19.94" fill="url(#sech)" opacity="0.410"/>
<rect x="91" y="244.37" width="2" height="19.83" fill="url(#sech)" opacity="0.411"/>
<rect x="93" y="244.42" width="2" height="19.72" fill="url(#sech)" opacity="0.413"/>
<rect x="95" y="244.46" width="2" height="19.61" fill="url(#sech)" opacity="0.415"/>
<rect x="97" y="244.51" width="2" height="19.49" fill="url(#sech)" opacity="0.417"/>
<rect x="99" y="244.56" width="2" height="19.37" fill="url(#sech)" opacity="0.419"/>
<rect x="101" y="244.62" width="2" height="19.25" fill="url(#sech)" opacity="0.421"/>
<rect x="103" y="244.67" width="2" height="19.13" fill="url(#sech)" opacity="0.423"/>
<rect x="105" y="244.73" width="2" height="19.01" fill="url(#sech)" opacity="0.426"/>
<rect x="107" y="244.78" width="2" height="18.89" fill="url(#sech)" opacity="0.428"/>
<rect x="109" y="244.84" width="2" height="18.76" fill="url(#sech)" opacity="0.430"/>
<rect x="111" y="244.90" width="2" height="18.64" fill="url(#sech)" opacity="0.432"/>
<rect x="113" y="244.96" width="2" height="18.51" fill="url(#sech)" opacity="0.435"/>
<rect x="115" y="245.02" width="2" height="18.37" fill="url(#sech)" opacity="0.437"/>
<rect x="117" y="245.09" width="2" height="18.24" fill="url(#sech)" opacity="0.440"/>
<rect x="119" y="245.16" width="2" height="18.10" fill="url(#sech)" opacity="0.443"/>
<rect x="121" y="245.23" width="2" height="17.95" fill="url(#sech)" opacity="0.445"/>
<rect x="123" y="245.30" width="2" height="17.81" fill="url(#sech)" opacity="0.448"/>
<rect x="125" y="245.37" width="2" height="17.66" fill="url(#sech)" opacity="0.451"/>
<rect x="127" y="245.45" width="2" height="17.51" fill="url(#sech)" opacity="0.455"/>
<rect x="129" y="245.52" width="2" height="17.35" fill="url(#sech)" opacity="0.458"/>
<rect x="131" y="245.60" width="2" height="17.20" fill="url(#sech)" opacity="0.461"/>
<rect x="133" y="245.68" width="2" height="17.04" fill="url(#sech)" opacity="0.464"/>
<rect x="135" y="245.76" width="2" height="16.89" fill="url(#sech)" opacity="0.468"/>
<rect x="137" y="245.84" width="2" height="16.73" fill="url(#sech)" opacity="0.471"/>
<rect x="139" y="245.92" width="2" height="16.57" fill="url(#sech)" opacity="0.475"/>
<rect x="141" y="246.00" width="2" height="16.41" fill="url(#sech)" opacity="0.479"/>
<rect x="143" y="246.09" width="2" height="16.24" fill="url(#sech)" opacity="0.483"/>
<rect x="145" y="246.18" width="2" height="16.07" fill="url(#sech)" opacity="0.487"/>
<rect x="147" y="246.28" width="2" height="15.89" fill="url(#sech)" opacity="0.491"/>
<rect x="149" y="246.38" width="2" height="15.71" fill="url(#sech)" opacity="0.496"/>
<rect x="151" y="246.48" width="2" height="15.53" fill="url(#sech)" opacity="0.500"/>
<rect x="153" y="246.59" width="2" height="15.35" fill="url(#sech)" opacity="0.505"/>
<rect x="155" y="246.70" width="2" height="15.17" fill="url(#sech)" opacity="0.510"/>
<rect x="157" y="246.81" width="2" height="14.99" fill="url(#sech)" opacity="0.515"/>
<rect x="159" y="246.93" width="2" height="14.81" fill="url(#sech)" opacity="0.520"/>
<rect x="161" y="247.04" width="2" height="14.64" fill="url(#sech)" opacity="0.525"/>
<rect x="163" y="247.16" width="2" height="14.46" fill="url(#sech)" opacity="0.530"/>
<rect x="165" y="247.27" width="2" height="14.29" fill="url(#sech)" opacity="0.535"/>
<rect x="167" y="247.39" width="2" height="14.12" fill="url(#sech)" opacity="0.540"/>
<rect x="169" y="247.50" width="2" height="13.95" fill="url(#sech)" opacity="0.545"/>
<rect x="171" y="247.62" width="2" height="13.79" fill="url(#sech)" opacity="0.550"/>
<rect x="173" y="247.73" width="2" height="13.62" fill="url(#sech)" opacity="0.556"/>
<rect x="175" y="247.85" width="2" height="13.44" fill="url(#sech)" opacity="0.561"/>
<rect x="177" y="247.98" width="2" height="13.27" fill="url(#sech)" opacity="0.567"/>
<rect x="179" y="248.10" width="2" height="13.10" fill="url(#sech)" opacity="0.573"/>
<rect x="181" y="248.22" width="2" height="12.93" fill="url(#sech)" opacity="0.579"/>
<rect x="183" y="248.34" width="2" height="12.76" fill="url(#sech)" opacity="0.585"/>
<rect x="185" y="248.46" width="2" height="12.60" fill="url(#sech)" opacity="0.591"/>
<rect x="187" y="248.57" width="2" height="12.44" fill="url(#sech)" opacity="0.597"/>
<rect x="189" y="248.68" width="2" height="12.29" fill="url(#sech)" opacity="0.603"/>
<rect x="191" y="248.79" width="2" height="12.14" fill="url(#sech)" opacity="0.609"/>
<rect x="193" y="248.90" width="2" height="12.01" fill="url(#sech)" opacity="0.615"/>
<rect x="195" y="249.00" width="2" height="11.88" fill="url(#sech)" opacity="0.620"/>
<rect x="197" y="249.09" width="2" height="11.75" fill="url(#sech)" opacity="0.625"/>
<rect x="199" y="249.18" width="2" height="11.64" fill="url(#sech)" opacity="0.630"/>
<rect x="201" y="249.27" width="2" height="11.53" fill="url(#sech)" opacity="0.635"/>
<rect x="203" y="249.35" width="2" height="11.43" fill="url(#sech)" opacity="0.639"/>
<rect x="205" y="249.44" width="2" height="11.33" fill="url(#sech)" opacity="0.644"/>
<rect x="207" y="249.53" width="2" height="11.22" fill="url(#sech)" opacity="0.649"/>
<rect x="209" y="249.62" width="2" height="11.13" fill="url(#sech)" opacity="0.653"/>
<rect x="211" y="249.70" width="2" height="11.04" fill="url(#sech)" opacity="0.657"/>
<rect x="213" y="249.78" width="2" height="10.95" fill="url(#sech)" opacity="0.662"/>
<rect x="215" y="249.87" width="2" height="10.87" fill="url(#sech)" opacity="0.666"/>
<rect x="217" y="249.95" width="2" height="10.79" fill="url(#sech)" opacity="0.669"/>
<rect x="219" y="250.02" width="2" height="10.72" fill="url(#sech)" opacity="0.673"/>
<rect x="221" y="250.10" width="2" height="10.66" fill="url(#sech)" opacity="0.676"/>
<rect x="223" y="250.17" width="2" height="10.61" fill="url(#sech)" opacity="0.679"/>
<rect x="225" y="250.23" width="2" height="10.56" fill="url(#sech)" opacity="0.681"/>
<rect x="227" y="250.30" width="2" height="10.51" fill="url(#sech)" opacity="0.684"/>
<rect x="229" y="250.37" width="2" height="10.46" fill="url(#sech)" opacity="0.686"/>
<rect x="231" y="250.43" width="2" height="10.42" fill="url(#sech)" opacity="0.688"/>
<rect x="233" y="250.50" width="2" height="10.38" fill="url(#sech)" opacity="0.691"/>
<rect x="235" y="250.56" width="2" height="10.34" fill="url(#sech)" opacity="0.693"/>
<rect x="237" y="250.63" width="2" height="10.31" fill="url(#sech)" opacity="0.694"/>
<rect x="239" y="250.69" width="2" height="10.28" fill="url(#sech)" opacity="0.696"/>
<rect x="241" y="250.74" width="2" height="10.26" fill="url(#sech)" opacity="0.697"/>
<rect x="243" y="250.79" width="2" height="10.25" fill="url(#sech)" opacity="0.697"/>
<rect x="245" y="250.84" width="2" height="10.25" fill="url(#sech)" opacity="0.697"/>
<rect x="247" y="250.88" width="2" height="10.27" fill="url(#sech)" opacity="0.696"/>
<rect x="249" y="250.91" width="2" height="10.31" fill="url(#sech)" opacity="0.694"/>
<rect x="251" y="250.93" width="2" height="10.36" fill="url(#sech)" opacity="0.692"/>
<rect x="253" y="250.95" width="2" height="10.42" fill="url(#sech)" opacity="0.689"/>
<rect x="255" y="250.97" width="2" height="10.49" fill="url(#sech)" opacity="0.685"/>
<rect x="257" y="250.97" width="2" height="10.57" fill="url(#sech)" opacity="0.681"/>
<rect x="259" y="250.98" width="2" height="10.66" fill="url(#sech)" opacity="0.676"/>
<rect x="261" y="250.99" width="2" height="10.75" fill="url(#sech)" opacity="0.672"/>
<rect x="263" y="250.99" width="2" height="10.84" fill="url(#sech)" opacity="0.667"/>
<rect x="265" y="251.00" width="2" height="10.93" fill="url(#sech)" opacity="0.663"/>
<rect x="267" y="251.00" width="2" height="11.04" fill="url(#sech)" opacity="0.658"/>
<rect x="269" y="250.99" width="2" height="11.16" fill="url(#sech)" opacity="0.652"/>
<rect x="271" y="250.97" width="2" height="11.30" fill="url(#sech)" opacity="0.645"/>
<rect x="273" y="250.94" width="2" height="11.46" fill="url(#sech)" opacity="0.638"/>
<rect x="275" y="250.91" width="2" height="11.62" fill="url(#sech)" opacity="0.631"/>
<rect x="277" y="250.88" width="2" height="11.80" fill="url(#sech)" opacity="0.623"/>
<rect x="279" y="250.84" width="2" height="11.98" fill="url(#sech)" opacity="0.616"/>
<rect x="281" y="250.80" width="2" height="12.17" fill="url(#sech)" opacity="0.608"/>
<rect x="283" y="250.76" width="2" height="12.36" fill="url(#sech)" opacity="0.600"/>
<rect x="285" y="250.71" width="2" height="12.55" fill="url(#sech)" opacity="0.593"/>
<rect x="287" y="250.68" width="2" height="12.74" fill="url(#sech)" opacity="0.586"/>
<rect x="289" y="250.65" width="2" height="12.91" fill="url(#sech)" opacity="0.580"/>
<rect x="291" y="250.62" width="2" height="13.08" fill="url(#sech)" opacity="0.574"/>
<rect x="293" y="250.59" width="2" height="13.25" fill="url(#sech)" opacity="0.568"/>
<rect x="295" y="250.56" width="2" height="13.42" fill="url(#sech)" opacity="0.562"/>
<rect x="297" y="250.53" width="2" height="13.60" fill="url(#sech)" opacity="0.556"/>
<rect x="299" y="250.49" width="2" height="13.78" fill="url(#sech)" opacity="0.550"/>
<rect x="301" y="250.46" width="2" height="13.96" fill="url(#sech)" opacity="0.545"/>
<rect x="303" y="250.43" width="2" height="14.14" fill="url(#sech)" opacity="0.539"/>
<rect x="305" y="250.40" width="2" height="14.32" fill="url(#sech)" opacity="0.534"/>
<rect x="307" y="250.37" width="2" height="14.50" fill="url(#sech)" opacity="0.528"/>
<rect x="309" y="250.35" width="2" height="14.68" fill="url(#sech)" opacity="0.523"/>
<rect x="311" y="250.32" width="2" height="14.86" fill="url(#sech)" opacity="0.518"/>
<rect x="313" y="250.29" width="2" height="15.04" fill="url(#sech)" opacity="0.513"/>
<rect x="315" y="250.27" width="2" height="15.21" fill="url(#sech)" opacity="0.509"/>
<rect x="317" y="250.25" width="2" height="15.38" fill="url(#sech)" opacity="0.504"/>
<rect x="319" y="250.23" width="2" height="15.54" fill="url(#sech)" opacity="0.500"/>
<rect x="321" y="250.21" width="2" height="15.70" fill="url(#sech)" opacity="0.496"/>
<rect x="323" y="250.20" width="2" height="15.86" fill="url(#sech)" opacity="0.492"/>
<rect x="325" y="250.18" width="2" height="16.01" fill="url(#sech)" opacity="0.488"/>
<rect x="327" y="250.17" width="2" height="16.17" fill="url(#sech)" opacity="0.484"/>
<rect x="329" y="250.15" width="2" height="16.32" fill="url(#sech)" opacity="0.481"/>
<rect x="331" y="250.14" width="2" height="16.47" fill="url(#sech)" opacity="0.477"/>
<rect x="333" y="250.13" width="2" height="16.62" fill="url(#sech)" opacity="0.474"/>
<rect x="335" y="250.11" width="2" height="16.76" fill="url(#sech)" opacity="0.471"/>
<rect x="337" y="250.10" width="2" height="16.91" fill="url(#sech)" opacity="0.467"/>
<rect x="339" y="250.09" width="2" height="17.05" fill="url(#sech)" opacity="0.464"/>
<rect x="341" y="250.08" width="2" height="17.19" fill="url(#sech)" opacity="0.461"/>
<rect x="343" y="250.07" width="2" height="17.33" fill="url(#sech)" opacity="0.458"/>
<rect x="345" y="250.06" width="2" height="17.46" fill="url(#sech)" opacity="0.455"/>
<rect x="347" y="250.05" width="2" height="17.60" fill="url(#sech)" opacity="0.453"/>
<rect x="349" y="250.04" width="2" height="17.73" fill="url(#sech)" opacity="0.450"/>
<rect x="351" y="250.02" width="2" height="17.86" fill="url(#sech)" opacity="0.447"/>
<rect x="353" y="250.01" width="2" height="18.00" fill="url(#sech)" opacity="0.445"/>
<rect x="355" y="249.99" width="2" height="18.15" fill="url(#sech)" opacity="0.442"/>
<rect x="357" y="249.96" width="2" height="18.30" fill="url(#sech)" opacity="0.439"/>
<rect x="359" y="249.94" width="2" height="18.45" fill="url(#sech)" opacity="0.436"/>
<rect x="361" y="249.91" width="2" height="18.60" fill="url(#sech)" opacity="0.433"/>
<rect x="363" y="249.89" width="2" height="18.75" fill="url(#sech)" opacity="0.430"/>
<rect x="365" y="249.87" width="2" height="18.90" fill="url(#sech)" opacity="0.427"/>
<rect x="367" y="249.84" width="2" height="19.05" fill="url(#sech)" opacity="0.425"/>
<rect x="369" y="249.82" width="2" height="19.19" fill="url(#sech)" opacity="0.422"/>
<rect x="371" y="249.81" width="2" height="19.31" fill="url(#sech)" opacity="0.420"/>
<rect x="373" y="249.80" width="2" height="19.43" fill="url(#sech)" opacity="0.418"/>
<rect x="375" y="249.80" width="2" height="19.53" fill="url(#sech)" opacity="0.416"/>
<rect x="377" y="249.80" width="2" height="19.62" fill="url(#sech)" opacity="0.415"/>
<rect x="379" y="249.82" width="2" height="19.69" fill="url(#sech)" opacity="0.414"/>
<rect x="381" y="249.84" width="2" height="19.74" fill="url(#sech)" opacity="0.413"/>
<rect x="383" y="249.88" width="2" height="19.76" fill="url(#sech)" opacity="0.413"/>
<rect x="385" y="249.92" width="2" height="19.76" fill="url(#sech)" opacity="0.413"/>
<rect x="387" y="249.98" width="2" height="19.74" fill="url(#sech)" opacity="0.413"/>
<rect x="389" y="250.05" width="2" height="19.70" fill="url(#sech)" opacity="0.414"/>
<rect x="391" y="250.13" width="2" height="19.65" fill="url(#sech)" opacity="0.414"/>
<rect x="393" y="250.21" width="2" height="19.58" fill="url(#sech)" opacity="0.416"/>
<rect x="395" y="250.30" width="2" height="19.50" fill="url(#sech)" opacity="0.417"/>
<rect x="397" y="250.39" width="2" height="19.41" fill="url(#sech)" opacity="0.418"/>
<rect x="399" y="250.49" width="2" height="19.31" fill="url(#sech)" opacity="0.420"/>
<rect x="401" y="250.59" width="2" height="19.21" fill="url(#sech)" opacity="0.422"/>
<rect x="403" y="250.70" width="2" height="19.10" fill="url(#sech)" opacity="0.424"/>
<rect x="405" y="250.80" width="2" height="18.99" fill="url(#sech)" opacity="0.426"/>
<rect x="407" y="250.91" width="2" height="18.88" fill="url(#sech)" opacity="0.428"/>
<rect x="409" y="251.02" width="2" height="18.76" fill="url(#sech)" opacity="0.430"/>
<rect x="411" y="251.13" width="2" height="18.64" fill="url(#sech)" opacity="0.432"/>
<rect x="413" y="251.25" width="2" height="18.51" fill="url(#sech)" opacity="0.435"/>
<rect x="415" y="251.38" width="2" height="18.36" fill="url(#sech)" opacity="0.438"/>
<rect x="417" y="251.51" width="2" height="18.19" fill="url(#sech)" opacity="0.441"/>
<rect x="419" y="251.65" width="2" height="18.01" fill="url(#sech)" opacity="0.444"/>
<rect x="421" y="251.79" width="2" height="17.83" fill="url(#sech)" opacity="0.448"/>
<rect x="423" y="251.94" width="2" height="17.64" fill="url(#sech)" opacity="0.452"/>
<rect x="425" y="252.09" width="2" height="17.44" fill="url(#sech)" opacity="0.456"/>
<rect x="427" y="252.24" width="2" height="17.24" fill="url(#sech)" opacity="0.460"/>
<rect x="429" y="252.40" width="2" height="17.04" fill="url(#sech)" opacity="0.465"/>
<rect x="431" y="252.55" width="2" height="16.83" fill="url(#sech)" opacity="0.469"/>
<rect x="433" y="252.70" width="2" height="16.63" fill="url(#sech)" opacity="0.474"/>
<rect x="435" y="252.86" width="2" height="16.43" fill="url(#sech)" opacity="0.478"/>
<rect x="437" y="253.01" width="2" height="16.23" fill="url(#sech)" opacity="0.483"/>
<rect x="439" y="253.16" width="2" height="16.04" fill="url(#sech)" opacity="0.487"/>
<rect x="441" y="253.31" width="2" height="15.84" fill="url(#sech)" opacity="0.492"/>
<rect x="443" y="253.46" width="2" height="15.64" fill="url(#sech)" opacity="0.497"/>
<rect x="445" y="253.62" width="2" height="15.43" fill="url(#sech)" opacity="0.503"/>
<rect x="447" y="253.78" width="2" height="15.21" fill="url(#sech)" opacity="0.509"/>
<rect x="449" y="253.94" width="2" height="15.00" fill="url(#sech)" opacity="0.514"/>
<rect x="451" y="254.11" width="2" height="14.78" fill="url(#sech)" opacity="0.521"/>
<rect x="453" y="254.27" width="2" height="14.56" fill="url(#sech)" opacity="0.527"/>
<rect x="455" y="254.43" width="2" height="14.35" fill="url(#sech)" opacity="0.533"/>
<rect x="457" y="254.59" width="2" height="14.14" fill="url(#sech)" opacity="0.539"/>
<rect x="459" y="254.75" width="2" height="13.94" fill="url(#sech)" opacity="0.545"/>
<rect x="461" y="254.90" width="2" height="13.74" fill="url(#sech)" opacity="0.552"/>
<rect x="463" y="255.05" width="2" height="13.55" fill="url(#sech)" opacity="0.558"/>
<rect x="465" y="255.20" width="2" height="13.38" fill="url(#sech)" opacity="0.564"/>
<rect x="467" y="255.34" width="2" height="13.21" fill="url(#sech)" opacity="0.569"/>
<rect x="469" y="255.48" width="2" height="13.05" fill="url(#sech)" opacity="0.575"/>
<rect x="471" y="255.61" width="2" height="12.90" fill="url(#sech)" opacity="0.580"/>
<rect x="473" y="255.74" width="2" height="12.75" fill="url(#sech)" opacity="0.586"/>
<rect x="475" y="255.88" width="2" height="12.60" fill="url(#sech)" opacity="0.591"/>
<rect x="477" y="256.01" width="2" height="12.46" fill="url(#sech)" opacity="0.597"/>
<rect x="479" y="256.14" width="2" height="12.32" fill="url(#sech)" opacity="0.602"/>
<rect x="481" y="256.27" width="2" height="12.19" fill="url(#sech)" opacity="0.607"/>
<rect x="483" y="256.39" width="2" height="12.06" fill="url(#sech)" opacity="0.613"/>
<rect x="485" y="256.52" width="2" height="11.93" fill="url(#sech)" opacity="0.618"/>
<rect x="487" y="256.64" width="2" height="11.81" fill="url(#sech)" opacity="0.623"/>
<rect x="489" y="256.76" width="2" height="11.70" fill="url(#sech)" opacity="0.628"/>
<rect x="491" y="256.88" width="2" height="11.58" fill="url(#sech)" opacity="0.632"/>
<rect x="493" y="257.00" width="2" height="11.48" fill="url(#sech)" opacity="0.637"/>
<rect x="495" y="257.11" width="2" height="11.38" fill="url(#sech)" opacity="0.642"/>
<rect x="497" y="257.23" width="2" height="11.28" fill="url(#sech)" opacity="0.646"/>
<rect x="499" y="257.33" width="2" height="11.20" fill="url(#sech)" opacity="0.650"/>
<rect x="501" y="257.44" width="2" height="11.11" fill="url(#sech)" opacity="0.654"/>
<rect x="503" y="257.55" width="2" height="11.03" fill="url(#sech)" opacity="0.658"/>
<rect x="505" y="257.65" width="2" height="10.95" fill="url(#sech)" opacity="0.662"/>
<rect x="507" y="257.76" width="2" height="10.87" fill="url(#sech)" opacity="0.666"/>
<rect x="509" y="257.86" width="2" height="10.79" fill="url(#sech)" opacity="0.669"/>
<rect x="511" y="257.96" width="2" height="10.72" fill="url(#sech)" opacity="0.673"/>
<rect x="513" y="258.06" width="2" height="10.65" fill="url(#sech)" opacity="0.677"/>
<rect x="515" y="258.16" width="2" height="10.58" fill="url(#sech)" opacity="0.680"/>
<rect x="517" y="258.26" width="2" height="10.52" fill="url(#sech)" opacity="0.683"/>
<rect x="519" y="258.35" width="2" height="10.46" fill="url(#sech)" opacity="0.686"/>
<rect x="521" y="258.45" width="2" height="10.40" fill="url(#sech)" opacity="0.689"/>
<rect x="523" y="258.54" width="2" height="10.35" fill="url(#sech)" opacity="0.692"/>
<rect x="525" y="258.63" width="2" height="10.30" fill="url(#sech)" opacity="0.695"/>
<rect x="527" y="258.71" width="2" height="10.25" fill="url(#sech)" opacity="0.698"/>
<rect x="529" y="258.80" width="2" height="10.20" fill="url(#sech)" opacity="0.700"/>
<rect x="531" y="258.88" width="2" height="10.16" fill="url(#sech)" opacity="0.702"/>
<rect x="533" y="258.96" width="2" height="10.12" fill="url(#sech)" opacity="0.704"/>
<rect x="535" y="259.04" width="2" height="10.09" fill="url(#sech)" opacity="0.707"/>
<rect x="537" y="259.13" width="2" height="10.05" fill="url(#sech)" opacity="0.709"/>
<rect x="539" y="259.21" width="2" height="10.01" fill="url(#sech)" opacity="0.711"/>
<rect x="541" y="259.28" width="2" height="9.98" fill="url(#sech)" opacity="0.713"/>
<rect x="543" y="259.36" width="2" height="9.95" fill="url(#sech)" opacity="0.714"/>
<rect x="545" y="259.44" width="2" height="9.92" fill="url(#sech)" opacity="0.716"/>
<rect x="547" y="259.52" width="2" height="9.89" fill="url(#sech)" opacity="0.718"/>
<rect x="549" y="259.59" width="2" height="9.86" fill="url(#sech)" opacity="0.719"/>
<rect x="551" y="259.67" width="2" height="9.84" fill="url(#sech)" opacity="0.721"/>
<rect x="553" y="259.74" width="2" height="9.81" fill="url(#sech)" opacity="0.722"/>
<rect x="555" y="259.81" width="2" height="9.79" fill="url(#sech)" opacity="0.723"/>
<rect x="557" y="259.88" width="2" height="9.77" fill="url(#sech)" opacity="0.725"/>
<rect x="77" y="290.86" width="2" height="20.50" fill="url(#sech)" opacity="0.401"/>
<rect x="79" y="290.91" width="2" height="20.42" fill="url(#sech)" opacity="0.402"/>
<rect x="81" y="290.97" width="2" height="20.33" fill="url(#sech)" opacity="0.403"/>
<rect x="83" y="291.03" width="2" height="20.24" fill="url(#sech)" opacity="0.405"/>
<rect x="85" y="291.10" width="2" height="20.14" fill="url(#sech)" opacity="0.406"/>
<rect x="87" y="291.16" width="2" height="20.04" fill="url(#sech)" opacity="0.408"/>
<rect x="89" y="291.23" width="2" height="19.94" fill="url(#sech)" opacity="0.410"/>
<rect x="91" y="291.30" width="2" height="19.83" fill="url(#sech)" opacity="0.411"/>
<rect x="93" y="291.37" width="2" height="19.72" fill="url(#sech)" opacity="0.413"/>
<rect x="95" y="291.44" width="2" height="19.61" fill="url(#sech)" opacity="0.415"/>
<rect x="97" y="291.52" width="2" height="19.49" fill="url(#sech)" opacity="0.417"/>
<rect x="99" y="291.59" width="2" height="19.37" fill="url(#sech)" opacity="0.419"/>
<rect x="101" y="291.67" width="2" height="19.25" fill="url(#sech)" opacity="0.421"/>
<rect x="103" y="291.75" width="2" height="19.13" fill="url(#sech)" opacity="0.423"/>
<rect x="105" y="291.82" width="2" height="19.01" fill="url(#sech)" opacity="0.426"/>
<rect x="107" y="291.90" width="2" height="18.89" fill="url(#sech)" opacity="0.428"/>
<rect x="109" y="291.98" width="2" height="18.76" fill="url(#sech)" opacity="0.430"/>
<rect x="111" y="292.06" width="2" height="18.64" fill="url(#sech)" opacity="0.432"/>
<rect x="113" y="292.14" width="2" height="18.51" fill="url(#sech)" opacity="0.435"/>
<rect x="115" y="292.23" width="2" height="18.37" fill="url(#sech)" opacity="0.437"/>
<rect x="117" y="292.32" width="2" height="18.23" fill="url(#sech)" opacity="0.440"/>
<rect x="119" y="292.40" width="2" height="18.09" fill="url(#sech)" opacity="0.443"/>
<rect x="121" y="292.49" width="2" height="17.94" fill="url(#sech)" opacity="0.446"/>
<rect x="123" y="292.59" width="2" height="17.80" fill="url(#sech)" opacity="0.449"/>
<rect x="125" y="292.68" width="2" height="17.65" fill="url(#sech)" opacity="0.452"/>
<rect x="127" y="292.77" width="2" height="17.50" fill="url(#sech)" opacity="0.455"/>
<rect x="129" y="292.87" width="2" height="17.34" fill="url(#sech)" opacity="0.458"/>
<rect x="131" y="292.96" width="2" height="17.19" fill="url(#sech)" opacity="0.461"/>
<rect x="133" y="293.06" width="2" height="17.03" fill="url(#sech)" opacity="0.465"/>
<rect x="135" y="293.15" width="2" height="16.88" fill="url(#sech)" opacity="0.468"/>
<rect x="137" y="293.25" width="2" height="16.72" fill="url(#sech)" opacity="0.471"/>
<rect x="139" y="293.34" width="2" height="16.57" fill="url(#sech)" opacity="0.475"/>
<rect x="141" y="293.44" width="2" height="16.41" fill="url(#sech)" opacity="0.479"/>
<rect x="143" y="293.53" width="2" height="16.25" fill="url(#sech)" opacity="0.482"/>
<rect x="145" y="293.63" width="2" height="16.09" fill="url(#sech)" opacity="0.486"/>
<rect x="147" y="293.73" width="2" height="15.93" fill="url(#sech)" opacity="0.490"/>
<rect x="149" y="293.83" width="2" height="15.76" fill="url(#sech)" opacity="0.494"/>
<rect x="151" y="293.93" width="2" height="15.59" fill="url(#sech)" opacity="0.499"/>
<rect x="153" y="294.03" width="2" height="15.43" fill="url(#sech)" opacity="0.503"/>
<rect x="155" y="294.13" width="2" height="15.26" fill="url(#sech)" opacity="0.507"/>
<rect x="157" y="294.23" width="2" height="15.09" fill="url(#sech)" opacity="0.512"/>
<rect x="159" y="294.33" width="2" height="14.92" fill="url(#sech)" opacity="0.516"/>
<rect x="161" y="294.43" width="2" height="14.76" fill="url(#sech)" opacity="0.521"/>
<rect x="163" y="294.53" width="2" height="14.59" fill="url(#sech)" opacity="0.526"/>
<rect x="165" y="294.63" width="2" height="14.43" fill="url(#sech)" opacity="0.530"/>
<rect x="167" y="294.73" width="2" height="14.27" fill="url(#sech)" opacity="0.535"/>
<rect x="169" y="294.83" width="2" height="14.12" fill="url(#sech)" opacity="0.540"/>
<rect x="171" y="294.93" width="2" height="13.96" fill="url(#sech)" opacity="0.545"/>
<rect x="173" y="295.03" width="2" height="13.80" fill="url(#sech)" opacity="0.550"/>
<rect x="175" y="295.13" width="2" height="13.63" fill="url(#sech)" opacity="0.555"/>
<rect x="177" y="295.23" width="2" height="13.47" fill="url(#sech)" opacity="0.561"/>
<rect x="179" y="295.33" width="2" height="13.31" fill="url(#sech)" opacity="0.566"/>
<rect x="181" y="295.43" width="2" height="13.15" fill="url(#sech)" opacity="0.572"/>
<rect x="183" y="295.54" width="2" height="12.99" fill="url(#sech)" opacity="0.577"/>
<rect x="185" y="295.64" width="2" height="12.83" fill="url(#sech)" opacity="0.583"/>
<rect x="187" y="295.74" width="2" height="12.68" fill="url(#sech)" opacity="0.588"/>
<rect x="189" y="295.84" width="2" height="12.53" fill="url(#sech)" opacity="0.594"/>
<rect x="191" y="295.93" width="2" height="12.39" fill="url(#sech)" opacity="0.599"/>
<rect x="193" y="296.03" width="2" height="12.25" fill="url(#sech)" opacity="0.605"/>
<rect x="195" y="296.13" width="2" height="12.12" fill="url(#sech)" opacity="0.610"/>
<rect x="197" y="296.22" width="2" height="12.00" fill="url(#sech)" opacity="0.615"/>
<rect x="199" y="296.31" width="2" height="11.88" fill="url(#sech)" opacity="0.620"/>
<rect x="201" y="296.41" width="2" height="11.76" fill="url(#sech)" opacity="0.625"/>
<rect x="203" y="296.50" width="2" height="11.65" fill="url(#sech)" opacity="0.630"/>
<rect x="205" y="296.60" width="2" height="11.53" fill="url(#sech)" opacity="0.635"/>
<rect x="207" y="296.71" width="2" height="11.42" fill="url(#sech)" opacity="0.640"/>
<rect x="209" y="296.81" width="2" height="11.31" fill="url(#sech)" opacity="0.645"/>
<rect x="211" y="296.92" width="2" height="11.21" fill="url(#sech)" opacity="0.650"/>
<rect x="213" y="297.02" width="2" height="11.11" fill="url(#sech)" opacity="0.654"/>
<rect x="215" y="297.12" width="2" height="11.01" fill="url(#sech)" opacity="0.659"/>
<rect x="217" y="297.23" width="2" height="10.92" fill="url(#sech)" opacity="0.663"/>
<rect x="219" y="297.33" width="2" height="10.84" fill="url(#sech)" opacity="0.667"/>
<rect x="221" y="297.42" width="2" height="10.77" fill="url(#sech)" opacity="0.670"/>
<rect x="223" y="297.52" width="2" height="10.71" fill="url(#sech)" opacity="0.674"/>
<rect x="225" y="297.61" width="2" height="10.65" fill="url(#sech)" opacity="0.676"/>
<rect x="227" y="297.70" width="2" height="10.60" fill="url(#sech)" opacity="0.679"/>
<rect x="229" y="297.80" width="2" height="10.54" fill="url(#sech)" opacity="0.682"/>
<rect x="231" y="297.89" width="2" height="10.49" fill="url(#sech)" opacity="0.685"/>
<rect x="233" y="297.98" width="2" height="10.44" fill="url(#sech)" opacity="0.687"/>
<rect x="235" y="298.07" width="2" height="10.39" fill="url(#sech)" opacity="0.690"/>
<rect x="237" y="298.16" width="2" height="10.35" fill="url(#sech)" opacity="0.692"/>
<rect x="239" y="298.24" width="2" height="10.31" fill="url(#sech)" opacity="0.695"/>
<rect x="241" y="298.32" width="2" height="10.27" fill="url(#sech)" opacity="0.696"/>
<rect x="243" y="298.40" width="2" height="10.24" fill="url(#sech)" opacity="0.698"/>
<rect x="245" y="298.47" width="2" height="10.22" fill="url(#sech)" opacity="0.699"/>
<rect x="247" y="298.54" width="2" height="10.21" fill="url(#sech)" opacity="0.700"/>
<rect x="249" y="298.60" width="2" height="10.20" fill="url(#sech)" opacity="0.700"/>
<rect x="251" y="298.66" width="2" height="10.21" fill="url(#sech)" opacity="0.700"/>
<rect x="253" y="298.71" width="2" height="10.23" fill="url(#sech)" opacity="0.699"/>
<rect x="255" y="298.74" width="2" height="10.26" fill="url(#sech)" opacity="0.697"/>
<rect x="257" y="298.78" width="2" height="10.30" fill="url(#sech)" opacity="0.695"/>
<rect x="259" y="298.80" width="2" height="10.35" fill="url(#sech)" opacity="0.692"/>
<rect x="261" y="298.82" width="2" height="10.40" fill="url(#sech)" opacity="0.689"/>
<rect x="263" y="298.84" width="2" height="10.47" fill="url(#sech)" opacity="0.686"/>
<rect x="265" y="298.85" width="2" height="10.53" fill="url(#sech)" opacity="0.682"/>
<rect x="267" y="298.86" width="2" height="10.61" fill="url(#sech)" opacity="0.679"/>
<rect x="269" y="298.87" width="2" height="10.68" fill="url(#sech)" opacity="0.675"/>
<rect x="271" y="298.88" width="2" height="10.76" fill="url(#sech)" opacity="0.671"/>
<rect x="273" y="298.88" width="2" height="10.84" fill="url(#sech)" opacity="0.667"/>
<rect x="275" y="298.89" width="2" height="10.92" fill="url(#sech)" opacity="0.663"/>
<rect x="277" y="298.88" width="2" height="11.02" fill="url(#sech)" opacity="0.658"/>
<rect x="279" y="298.87" width="2" height="11.13" fill="url(#sech)" opacity="0.653"/>
<rect x="281" y="298.86" width="2" height="11.25" fill="url(#sech)" opacity="0.647"/>
<rect x="283" y="298.83" width="2" height="11.39" fill="url(#sech)" opacity="0.641"/>
<rect x="285" y="298.80" width="2" height="11.53" fill="url(#sech)" opacity="0.635"/>
<rect x="287" y="298.77" width="2" height="11.69" fill="url(#sech)" opacity="0.628"/>
<rect x="289" y="298.73" width="2" height="11.85" fill="url(#sech)" opacity="0.621"/>
<rect x="291" y="298.69" width="2" height="12.02" fill="url(#sech)" opacity="0.614"/>
<rect x="293" y="298.65" width="2" height="12.19" fill="url(#sech)" opacity="0.607"/>
<rect x="295" y="298.61" width="2" height="12.36" fill="url(#sech)" opacity="0.600"/>
<rect x="297" y="298.57" width="2" height="12.54" fill="url(#sech)" opacity="0.594"/>
<rect x="299" y="298.53" width="2" height="12.70" fill="url(#sech)" opacity="0.587"/>
<rect x="301" y="298.49" width="2" height="12.87" fill="url(#sech)" opacity="0.581"/>
<rect x="303" y="298.45" width="2" height="13.05" fill="url(#sech)" opacity="0.575"/>
<rect x="305" y="298.41" width="2" height="13.23" fill="url(#sech)" opacity="0.569"/>
<rect x="307" y="298.36" width="2" height="13.42" fill="url(#sech)" opacity="0.562"/>
<rect x="309" y="298.32" width="2" height="13.61" fill="url(#sech)" opacity="0.556"/>
<rect x="311" y="298.27" width="2" height="13.80" fill="url(#sech)" opacity="0.550"/>
<rect x="313" y="298.22" width="2" height="14.00" fill="url(#sech)" opacity="0.544"/>
<rect x="315" y="298.17" width="2" height="14.20" fill="url(#sech)" opacity="0.537"/>
<rect x="317" y="298.13" width="2" height="14.40" fill="url(#sech)" opacity="0.532"/>
<rect x="319" y="298.08" width="2" height="14.59" fill="url(#sech)" opacity="0.526"/>
<rect x="321" y="298.04" width="2" height="14.79" fill="url(#sech)" opacity="0.520"/>
<rect x="323" y="298.01" width="2" height="14.98" fill="url(#sech)" opacity="0.515"/>
<rect x="325" y="297.97" width="2" height="15.16" fill="url(#sech)" opacity="0.510"/>
<rect x="327" y="297.94" width="2" height="15.34" fill="url(#sech)" opacity="0.505"/>
<rect x="329" y="297.91" width="2" height="15.52" fill="url(#sech)" opacity="0.500"/>
<rect x="331" y="297.88" width="2" height="15.71" fill="url(#sech)" opacity="0.496"/>
<rect x="333" y="297.85" width="2" height="15.89" fill="url(#sech)" opacity="0.491"/>
<rect x="335" y="297.82" width="2" height="16.07" fill="url(#sech)" opacity="0.487"/>
<rect x="337" y="297.79" width="2" height="16.25" fill="url(#sech)" opacity="0.483"/>
<rect x="339" y="297.77" width="2" height="16.42" fill="url(#sech)" opacity="0.478"/>
<rect x="341" y="297.74" width="2" height="16.60" fill="url(#sech)" opacity="0.474"/>
<rect x="343" y="297.72" width="2" height="16.77" fill="url(#sech)" opacity="0.471"/>
<rect x="345" y="297.70" width="2" height="16.93" fill="url(#sech)" opacity="0.467"/>
<rect x="347" y="297.69" width="2" height="17.09" fill="url(#sech)" opacity="0.463"/>
<rect x="349" y="297.68" width="2" height="17.25" fill="url(#sech)" opacity="0.460"/>
<rect x="351" y="297.66" width="2" height="17.40" fill="url(#sech)" opacity="0.457"/>
<rect x="353" y="297.65" width="2" height="17.57" fill="url(#sech)" opacity="0.453"/>
<rect x="355" y="297.63" width="2" height="17.74" fill="url(#sech)" opacity="0.450"/>
<rect x="357" y="297.61" width="2" height="17.91" fill="url(#sech)" opacity="0.446"/>
<rect x="359" y="297.59" width="2" height="18.09" fill="url(#sech)" opacity="0.443"/>
<rect x="361" y="297.57" width="2" height="18.27" fill="url(#sech)" opacity="0.439"/>
<rect x="363" y="297.54" width="2" height="18.44" fill="url(#sech)" opacity="0.436"/>
<rect x="365" y="297.52" width="2" height="18.61" fill="url(#sech)" opacity="0.433"/>
<rect x="367" y="297.51" width="2" height="18.78" fill="url(#sech)" opacity="0.430"/>
<rect x="369" y="297.50" width="2" height="18.94" fill="url(#sech)" opacity="0.427"/>
<rect x="371" y="297.49" width="2" height="19.09" fill="url(#sech)" opacity="0.424"/>
<rect x="373" y="297.49" width="2" height="19.23" fill="url(#sech)" opacity="0.422"/>
<rect x="375" y="297.49" width="2" height="19.35" fill="url(#sech)" opacity="0.420"/>
<rect x="377" y="297.51" width="2" height="19.45" fill="url(#sech)" opacity="0.418"/>
<rect x="379" y="297.54" width="2" height="19.53" fill="url(#sech)" opacity="0.417"/>
<rect x="381" y="297.57" width="2" height="19.58" fill="url(#sech)" opacity="0.416"/>
<rect x="383" y="297.62" width="2" height="19.61" fill="url(#sech)" opacity="0.415"/>
<rect x="385" y="297.69" width="2" height="19.62" fill="url(#sech)" opacity="0.415"/>
<rect x="387" y="297.76" width="2" height="19.61" fill="url(#sech)" opacity="0.415"/>
<rect x="389" y="297.83" width="2" height="19.60" fill="url(#sech)" opacity="0.415"/>
<rect x="391" y="297.90" width="2" height="19.58" fill="url(#sech)" opacity="0.416"/>
<rect x="393" y="297.97" width="2" height="19.56" fill="url(#sech)" opacity="0.416"/>
<rect x="395" y="298.05" width="2" height="19.54" fill="url(#sech)" opacity="0.416"/>
<rect x="397" y="298.13" width="2" height="19.51" fill="url(#sech)" opacity="0.417"/>
<rect x="399" y="298.21" width="2" height="19.48" fill="url(#sech)" opacity="0.417"/>
<rect x="401" y="298.30" width="2" height="19.44" fill="url(#sech)" opacity="0.418"/>
<rect x="403" y="298.39" width="2" height="19.40" fill="url(#sech)" opacity="0.419"/>
<rect x="405" y="298.48" width="2" height="19.35" fill="url(#sech)" opacity="0.419"/>
<rect x="407" y="298.57" width="2" height="19.31" fill="url(#sech)" opacity="0.420"/>
<rect x="409" y="298.66" width="2" height="19.25" fill="url(#sech)" opacity="0.421"/>
<rect x="411" y="298.76" width="2" height="19.20" fill="url(#sech)" opacity="0.422"/>
<rect x="413" y="298.85" width="2" height="19.14" fill="url(#sech)" opacity="0.423"/>
<rect x="415" y="298.95" width="2" height="19.09" fill="url(#sech)" opacity="0.424"/>
<rect x="417" y="299.06" width="2" height="19.02" fill="url(#sech)" opacity="0.425"/>
<rect x="419" y="299.16" width="2" height="18.96" fill="url(#sech)" opacity="0.426"/>
<rect x="421" y="299.27" width="2" height="18.89" fill="url(#sech)" opacity="0.428"/>
<rect x="423" y="299.37" width="2" height="18.83" fill="url(#sech)" opacity="0.429"/>
<rect x="425" y="299.48" width="2" height="18.76" fill="url(#sech)" opacity="0.430"/>
<rect x="427" y="299.59" width="2" height="18.69" fill="url(#sech)" opacity="0.431"/>
<rect x="429" y="299.71" width="2" height="18.62" fill="url(#sech)" opacity="0.433"/>
<rect x="431" y="299.82" width="2" height="18.55" fill="url(#sech)" opacity="0.434"/>
<rect x="433" y="299.94" width="2" height="18.47" fill="url(#sech)" opacity="0.435"/>
<rect x="435" y="300.06" width="2" height="18.40" fill="url(#sech)" opacity="0.437"/>
<rect x="437" y="300.18" width="2" height="18.32" fill="url(#sech)" opacity="0.438"/>
<rect x="439" y="300.31" width="2" height="18.23" fill="url(#sech)" opacity="0.440"/>
<rect x="441" y="300.46" width="2" height="18.12" fill="url(#sech)" opacity="0.442"/>
<rect x="443" y="300.61" width="2" height="18.00" fill="url(#sech)" opacity="0.445"/>
<rect x="445" y="300.77" width="2" height="17.87" fill="url(#sech)" opacity="0.447"/>
<rect x="447" y="300.94" width="2" height="17.72" fill="url(#sech)" opacity="0.450"/>
<rect x="449" y="301.11" width="2" height="17.57" fill="url(#sech)" opacity="0.453"/>
<rect x="451" y="301.29" width="2" height="17.41" fill="url(#sech)" opacity="0.456"/>
<rect x="453" y="301.48" width="2" height="17.25" fill="url(#sech)" opacity="0.460"/>
<rect x="455" y="301.66" width="2" height="17.09" fill="url(#sech)" opacity="0.463"/>
<rect x="457" y="301.85" width="2" height="16.93" fill="url(#sech)" opacity="0.467"/>
<rect x="459" y="302.04" width="2" height="16.77" fill="url(#sech)" opacity="0.470"/>
<rect x="461" y="302.22" width="2" height="16.61" fill="url(#sech)" opacity="0.474"/>
<rect x="463" y="302.41" width="2" height="16.46" fill="url(#sech)" opacity="0.478"/>
<rect x="465" y="302.59" width="2" height="16.31" fill="url(#sech)" opacity="0.481"/>
<rect x="467" y="302.77" width="2" height="16.17" fill="url(#sech)" opacity="0.484"/>
<rect x="469" y="302.95" width="2" height="16.04" fill="url(#sech)" opacity="0.487"/>
<rect x="471" y="303.12" width="2" height="15.91" fill="url(#sech)" opacity="0.491"/>
<rect x="473" y="303.29" width="2" height="15.79" fill="url(#sech)" opacity="0.494"/>
<rect x="475" y="303.47" width="2" height="15.66" fill="url(#sech)" opacity="0.497"/>
<rect x="477" y="303.64" width="2" height="15.53" fill="url(#sech)" opacity="0.500"/>
<rect x="479" y="303.81" width="2" height="15.41" fill="url(#sech)" opacity="0.503"/>
<rect x="481" y="303.98" width="2" height="15.29" fill="url(#sech)" opacity="0.507"/>
<rect x="483" y="304.15" width="2" height="15.17" fill="url(#sech)" opacity="0.510"/>
<rect x="485" y="304.32" width="2" height="15.05" fill="url(#sech)" opacity="0.513"/>
<rect x="487" y="304.48" width="2" height="14.93" fill="url(#sech)" opacity="0.516"/>
<rect x="489" y="304.64" width="2" height="14.82" fill="url(#sech)" opacity="0.519"/>
<rect x="491" y="304.80" width="2" height="14.71" fill="url(#sech)" opacity="0.522"/>
<rect x="493" y="304.95" width="2" height="14.60" fill="url(#sech)" opacity="0.526"/>
<rect x="495" y="305.10" width="2" height="14.50" fill="url(#sech)" opacity="0.529"/>
<rect x="497" y="305.25" width="2" height="14.40" fill="url(#sech)" opacity="0.531"/>
<rect x="499" y="305.39" width="2" height="14.30" fill="url(#sech)" opacity="0.534"/>
<rect x="501" y="305.54" width="2" height="14.20" fill="url(#sech)" opacity="0.537"/>
<rect x="503" y="305.68" width="2" height="14.11" fill="url(#sech)" opacity="0.540"/>
<rect x="505" y="305.82" width="2" height="14.01" fill="url(#sech)" opacity="0.543"/>
<rect x="507" y="305.96" width="2" height="13.92" fill="url(#sech)" opacity="0.546"/>
<rect x="509" y="306.10" width="2" height="13.83" fill="url(#sech)" opacity="0.549"/>
<rect x="511" y="306.24" width="2" height="13.74" fill="url(#sech)" opacity="0.552"/>
<rect x="513" y="306.38" width="2" height="13.66" fill="url(#sech)" opacity="0.554"/>
<rect x="515" y="306.51" width="2" height="13.57" fill="url(#sech)" opacity="0.557"/>
<rect x="517" y="306.65" width="2" height="13.49" fill="url(#sech)" opacity="0.560"/>
<rect x="519" y="306.78" width="2" height="13.41" fill="url(#sech)" opacity="0.563"/>
<rect x="521" y="306.91" width="2" height="13.34" fill="url(#sech)" opacity="0.565"/>
<rect x="523" y="307.04" width="2" height="13.26" fill="url(#sech)" opacity="0.568"/>
<rect x="525" y="307.16" width="2" height="13.19" fill="url(#sech)" opacity="0.570"/>
<rect x="527" y="307.29" width="2" height="13.12" fill="url(#sech)" opacity="0.573"/>
<rect x="529" y="307.41" width="2" height="13.05" fill="url(#sech)" opacity="0.575"/>
<rect x="531" y="307.54" width="2" height="12.98" fill="url(#sech)" opacity="0.577"/>
<rect x="533" y="307.66" width="2" height="12.92" fill="url(#sech)" opacity="0.580"/>
<rect x="535" y="307.78" width="2" height="12.86" fill="url(#sech)" opacity="0.582"/>
<rect x="537" y="307.90" width="2" height="12.80" fill="url(#sech)" opacity="0.584"/>
<rect x="539" y="308.02" width="2" height="12.74" fill="url(#sech)" opacity="0.586"/>
<rect x="541" y="308.13" width="2" height="12.68" fill="url(#sech)" opacity="0.588"/>
<rect x="543" y="308.25" width="2" height="12.62" fill="url(#sech)" opacity="0.591"/>
<rect x="545" y="308.36" width="2" height="12.57" fill="url(#sech)" opacity="0.593"/>
<rect x="547" y="308.48" width="2" height="12.51" fill="url(#sech)" opacity="0.595"/>
<rect x="549" y="308.59" width="2" height="12.46" fill="url(#sech)" opacity="0.597"/>
<rect x="551" y="308.70" width="2" height="12.41" fill="url(#sech)" opacity="0.599"/>
<rect x="553" y="308.81" width="2" height="12.36" fill="url(#sech)" opacity="0.600"/>
<rect x="555" y="308.92" width="2" height="12.31" fill="url(#sech)" opacity="0.602"/>
<rect x="557" y="309.02" width="2" height="12.27" fill="url(#sech)" opacity="0.604"/>
</g>
<path d="M77.5 222.0 V334.0" fill="none" stroke="#262626" stroke-width="1.1"/>
<path d="M77.0 334.15 H559.8" fill="none" stroke="#1a1a1a" stroke-width="1.5"/>
<path d="M559.2 329.4 v5.4" fill="none" stroke="#1a1a1a" stroke-width="1.3"/>
<text transform="translate(67.8,244.1) scale(1,1.04)" font-size="27" text-anchor="end">20</text>
<text transform="translate(67.8,288.9) scale(1,1.04)" font-size="27" text-anchor="end">0</text>
<text transform="translate(67.8,333.7) scale(1,1.04)" font-size="27" text-anchor="end">-20</text>
<text transform="translate(77.0,371.4) scale(1,1.04)" font-size="27" text-anchor="middle">0</text>
<text transform="translate(173.4,371.4) scale(1,1.04)" font-size="27" text-anchor="middle">2</text>
<text transform="translate(269.8,371.4) scale(1,1.04)" font-size="27" text-anchor="middle">4</text>
<text transform="translate(366.2,371.4) scale(1,1.04)" font-size="27" text-anchor="middle">6</text>
<text transform="translate(462.6,371.4) scale(1,1.04)" font-size="27" text-anchor="middle">8</text>
<text transform="translate(559.0,371.4) scale(1,1.04)" font-size="27" text-anchor="middle">10</text>
<text transform="translate(318.2,408.0) scale(1,1.03)" font-size="30" text-anchor="middle">t</text>
<text transform="translate(17.3,278.2) rotate(-90)" font-size="30" text-anchor="middle">x</text>
<text x="96.2" y="261.3" font-size="30.5" style="fill:#fff" textLength="38.9" lengthAdjust="spacingAndGlyphs">(b)</text>
<g filter="url(#hot)"><rect x="594.3" y="222.2" width="39.1" height="105.5" fill="url(#cbg)"/></g>
<rect x="594.3" y="222.2" width="39.1" height="105.5" fill="none" stroke="#262626" stroke-width="1.4"/>
<text transform="translate(641.6,231.9) scale(1,1.05)" font-size="23.5">0.4</text>
<text transform="translate(641.6,283.8) scale(1,1.05)" font-size="23.5">0.2</text>
<text transform="translate(641.6,337.4) scale(1,1.05)" font-size="23.5">0</text>
<line x1="202.3" y1="454.8" x2="202.3" y2="750.8" stroke="#d9d9d9" stroke-width="1.6"/>
<line x1="319.2" y1="454.8" x2="319.2" y2="750.8" stroke="#d9d9d9" stroke-width="1.6"/>
<line x1="436.0" y1="454.8" x2="436.0" y2="750.8" stroke="#d9d9d9" stroke-width="1.6"/>
<line x1="552.9" y1="454.8" x2="552.9" y2="750.8" stroke="#d9d9d9" stroke-width="1.6"/>
<line x1="85.5" y1="676.8" x2="669.7" y2="676.8" stroke="#d9d9d9" stroke-width="1.6"/>
<line x1="85.5" y1="602.8" x2="669.7" y2="602.8" stroke="#d9d9d9" stroke-width="1.6"/>
<line x1="85.5" y1="528.8" x2="669.7" y2="528.8" stroke="#d9d9d9" stroke-width="1.6"/>
<rect x="85.5" y="454.8" width="584.2" height="295.99999999999994" fill="none" stroke="#262626" stroke-width="1.9"/>
<path d="M202.3 750.8 v-5.8 M202.3 454.8 v5.8 M319.2 750.8 v-5.8 M319.2 454.8 v5.8 M436.0 750.8 v-5.8 M436.0 454.8 v5.8 M552.9 750.8 v-5.8 M552.9 454.8 v5.8 M85.5 676.8 h5.8 M669.7 676.8 h-5.8 M85.5 602.8 h5.8 M669.7 602.8 h-5.8 M85.5 528.8 h5.8 M669.7 528.8 h-5.8" stroke="#262626" stroke-width="1.7" fill="none"/>
<g clip-path="url(#cpc)"><path d="M86.0 676.8 L300.0 676.8 L460.0 677.1 L470.0 677.2 L472.0 677.2 L474.0 677.2 L476.0 677.2 L478.0 677.3 L480.0 677.3 L482.0 677.3 L484.0 677.3 L486.0 677.3 L488.0 677.4 L490.0 677.4 L492.0 677.4 L494.0 677.4 L496.0 677.5 L498.0 677.5 L500.0 677.5 L502.0 677.5 L504.0 677.5 L506.0 677.6 L508.0 677.6 L510.0 677.6 L512.0 677.6 L514.0 677.6 L516.0 677.6 L518.0 677.7 L520.0 677.7 L522.0 677.7 L524.0 677.8 L526.0 677.9 L528.0 677.9 L530.0 678.0 L532.0 678.1 L534.0 678.1 L536.0 678.1 L538.0 678.1 L540.0 678.1 L542.0 678.0 L544.0 678.0 L546.0 677.9 L548.0 677.9 L550.0 677.8 L552.0 677.7 L554.0 677.5 L556.0 677.3 L558.0 676.9 L560.0 676.6 L562.0 676.2 L564.0 675.7 L566.0 675.2 L568.0 674.6 L570.0 674.0 L572.0 673.3 L574.0 672.5 L576.0 671.7 L578.0 670.9 L580.0 670.0 L582.0 669.0 L584.0 668.0 L586.0 666.9 L588.0 665.7 L590.0 664.4 L592.0 663.1 L594.0 661.8 L596.0 660.3 L598.0 658.8 L600.0 657.3 L602.0 655.5 L604.0 653.7 L606.0 651.7 L608.0 649.7 L610.0 647.5 L612.0 645.2 L614.0 642.8 L616.0 640.2 L618.0 637.4 L620.0 634.5 L622.0 631.4 L624.0 628.1 L626.0 624.4 L628.0 620.4 L630.0 616.2 L632.0 611.9 L634.0 607.5 L636.0 603.0 L638.0 598.2 L640.0 593.2 L642.0 587.8 L644.0 582.1 L646.0 576.2 L648.0 570.2 L650.0 564.0 L652.0 557.7 L654.0 551.3 L656.0 544.8 L658.0 538.2 L660.0 531.5 L662.0 524.9 L664.0 518.3 L666.0 511.7 L668.0 505.1 L670.0 498.6 L670.3 497.6" fill="none" stroke="#0000ff" stroke-width="3.9" stroke-linejoin="round"/>
<path d="M86.0 676.8 L300.0 676.8 L460.0 676.8 L470.0 676.8 L472.0 676.8 L474.0 676.8 L476.0 676.8 L478.0 676.8 L480.0 676.8 L482.0 676.8 L484.0 676.7 L486.0 676.7 L488.0 676.7 L490.0 676.7 L492.0 676.7 L494.0 676.7 L496.0 676.7 L498.0 676.7 L500.0 676.7 L502.0 676.6 L504.0 676.6 L506.0 676.6 L508.0 676.6 L510.0 676.6 L512.0 676.6 L514.0 676.6 L516.0 676.5 L518.0 676.5 L520.0 676.5 L522.0 676.5 L524.0 676.5 L526.0 676.4 L528.0 676.4 L530.0 676.3 L532.0 676.3 L534.0 676.2 L536.0 676.2 L538.0 676.1 L540.0 676.0 L542.0 676.0 L544.0 675.9 L546.0 675.8 L548.0 675.8 L550.0 675.7 L552.0 675.6 L554.0 675.5 L556.0 675.4 L558.0 675.4 L560.0 675.3 L562.0 675.2 L564.0 675.1 L566.0 675.1 L568.0 675.0 L570.0 674.9 L572.0 674.8 L574.0 674.7 L576.0 674.6 L578.0 674.5 L580.0 674.4 L582.0 674.3 L584.0 674.2 L586.0 674.1 L588.0 674.0 L590.0 673.9 L592.0 673.8 L594.0 673.7 L596.0 673.6 L598.0 673.5 L600.0 673.4 L602.0 673.3 L604.0 673.2 L606.0 673.1 L608.0 673.0 L610.0 672.9 L612.0 672.8 L614.0 672.7 L616.0 672.6 L618.0 672.5 L620.0 672.4 L622.0 672.3 L624.0 672.2 L626.0 672.1 L628.0 672.0 L630.0 671.8 L632.0 671.7 L634.0 671.6 L636.0 671.5 L638.0 671.4 L640.0 671.3 L642.0 671.2 L644.0 671.0 L646.0 670.9 L648.0 670.8 L650.0 670.6 L652.0 670.5 L654.0 670.4 L656.0 670.2 L658.0 670.1 L660.0 670.0 L662.0 669.8 L664.0 669.7 L666.0 669.5 L668.0 669.4 L670.0 669.2 L670.3 669.2" fill="none" stroke="#ff0000" stroke-width="2.2" stroke-linejoin="round"/></g>
<text transform="translate(85.5,787.5) scale(1,1.04)" font-size="27" text-anchor="middle">0</text>
<text transform="translate(202.3,787.5) scale(1,1.04)" font-size="27" text-anchor="middle">2</text>
<text transform="translate(319.2,787.5) scale(1,1.04)" font-size="27" text-anchor="middle">4</text>
<text transform="translate(436.0,787.5) scale(1,1.04)" font-size="27" text-anchor="middle">6</text>
<text transform="translate(552.9,787.5) scale(1,1.04)" font-size="27" text-anchor="middle">8</text>
<text transform="translate(669.7,787.5) scale(1,1.04)" font-size="27" text-anchor="middle">10</text>
<text transform="translate(76.0,762.2) scale(1,1.04)" font-size="27" text-anchor="end">-5</text>
<text transform="translate(76.0,688.2) scale(1,1.04)" font-size="27" text-anchor="end">0</text>
<text transform="translate(76.0,614.2) scale(1,1.04)" font-size="27" text-anchor="end">5</text>
<text transform="translate(76.0,540.2) scale(1,1.04)" font-size="27" text-anchor="end">10</text>
<text transform="translate(76.0,466.2) scale(1,1.04)" font-size="27" text-anchor="end">15</text>
<text transform="translate(377.7,825.8) scale(1,1.03)" font-size="30" text-anchor="middle">t</text>
<text x="84.9" y="450.4" font-size="26.5" style="font-family:'DejaVu Sans',sans-serif;font-weight:200">×</text>
<text x="106.6" y="448.3" font-size="27">10<tspan dx="0.5" dy="-13.8" font-size="21.5">-3</tspan></text>
<text transform="translate(24.1,664.6) rotate(-90)" font-size="27" letter-spacing="0.22">Z<tspan dy="13.6" font-size="20">1</tspan><tspan dy="-13.6" font-size="27">(t), Z</tspan><tspan dy="13.6" font-size="20">2</tspan><tspan dy="-13.6" font-size="27">(t)</tspan></text>
<text x="99.2" y="498.8" font-size="30.5" style="fill:#000" textLength="37" lengthAdjust="spacingAndGlyphs">(c)</text>
<rect x="486.3" y="467.9" width="142.6" height="113.1" fill="#fff" stroke="#262626" stroke-width="1.6"/>
<line x1="499" y1="499.2" x2="564.3" y2="499.2" stroke="#0000ff" stroke-width="3.4"/>
<line x1="499" y1="550.6" x2="564.3" y2="550.6" stroke="#ff0000" stroke-width="2.3" stroke-dasharray="15 14.7"/>
<text x="570.3" y="502.5" font-size="23.6">Z<tspan dy="11.5" font-size="17">1</tspan><tspan dy="-11.5" font-size="23.6">(t)</tspan></text>
<text x="570.3" y="554.2" font-size="23.6">Z<tspan dy="11.5" font-size="17">2</tspan><tspan dy="-11.5" font-size="23.6">(t)</tspan></text>
</svg></body></html>
